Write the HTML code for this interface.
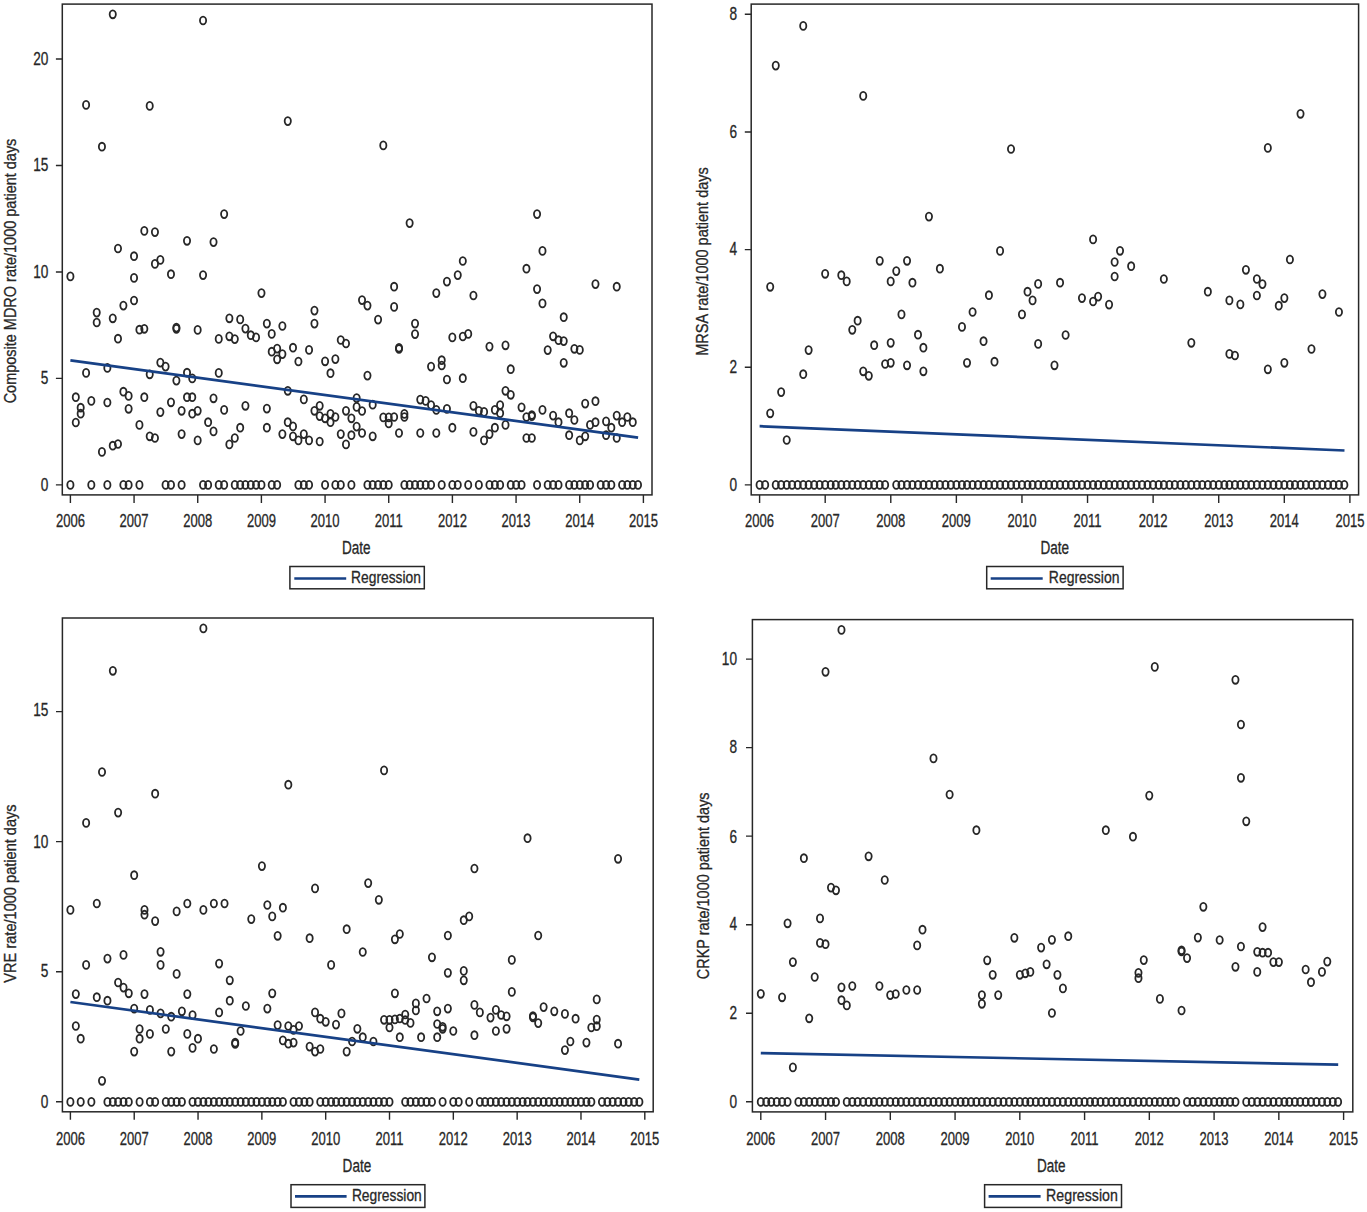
<!DOCTYPE html>
<html><head><meta charset="utf-8"><title>Regression plots</title>
<style>
html,body{margin:0;padding:0;background:#fff}
svg{display:block}
text{font-family:"Liberation Sans",sans-serif}
</style></head><body>
<svg width="1367" height="1212" viewBox="0 0 1367 1212">
<rect width="1367" height="1212" fill="#fff"/>
<g>
<g>
<rect x="62.3" y="4.1" width="589.70" height="490.80" fill="none" stroke="#272727" stroke-width="1.5"/>
<path d="M70.40 494.9v8M134.07 494.9v8M197.73 494.9v8M261.40 494.9v8M325.07 494.9v8M388.73 494.9v8M452.40 494.9v8M516.07 494.9v8M579.73 494.9v8M643.40 494.9v8M62.3 484.9h-6.4M62.3 378.4h-6.4M62.3 272.0h-6.4M62.3 165.5h-6.4M62.3 59.0h-6.4" stroke="#272727" stroke-width="1.4" fill="none"/>
<text transform="translate(70.40,526.50) scale(0.7450,1.0000)" text-anchor="middle" font-size="17.5" fill="#272727" stroke="#272727" stroke-width="0.3">2006</text>
<text transform="translate(134.07,526.50) scale(0.7450,1.0000)" text-anchor="middle" font-size="17.5" fill="#272727" stroke="#272727" stroke-width="0.3">2007</text>
<text transform="translate(197.73,526.50) scale(0.7450,1.0000)" text-anchor="middle" font-size="17.5" fill="#272727" stroke="#272727" stroke-width="0.3">2008</text>
<text transform="translate(261.40,526.50) scale(0.7450,1.0000)" text-anchor="middle" font-size="17.5" fill="#272727" stroke="#272727" stroke-width="0.3">2009</text>
<text transform="translate(325.07,526.50) scale(0.7450,1.0000)" text-anchor="middle" font-size="17.5" fill="#272727" stroke="#272727" stroke-width="0.3">2010</text>
<text transform="translate(388.73,526.50) scale(0.7450,1.0000)" text-anchor="middle" font-size="17.5" fill="#272727" stroke="#272727" stroke-width="0.3">2011</text>
<text transform="translate(452.40,526.50) scale(0.7450,1.0000)" text-anchor="middle" font-size="17.5" fill="#272727" stroke="#272727" stroke-width="0.3">2012</text>
<text transform="translate(516.07,526.50) scale(0.7450,1.0000)" text-anchor="middle" font-size="17.5" fill="#272727" stroke="#272727" stroke-width="0.3">2013</text>
<text transform="translate(579.73,526.50) scale(0.7450,1.0000)" text-anchor="middle" font-size="17.5" fill="#272727" stroke="#272727" stroke-width="0.3">2014</text>
<text transform="translate(643.40,526.50) scale(0.7450,1.0000)" text-anchor="middle" font-size="17.5" fill="#272727" stroke="#272727" stroke-width="0.3">2015</text>
<text transform="translate(48.40,490.90) scale(0.7800,1.0000)" text-anchor="end" font-size="17.5" fill="#272727" stroke="#272727" stroke-width="0.3">0</text>
<text transform="translate(48.40,384.00) scale(0.7800,1.0000)" text-anchor="end" font-size="17.5" fill="#272727" stroke="#272727" stroke-width="0.3">5</text>
<text transform="translate(48.40,277.60) scale(0.7800,1.0000)" text-anchor="end" font-size="17.5" fill="#272727" stroke="#272727" stroke-width="0.3">10</text>
<text transform="translate(48.40,170.50) scale(0.7800,1.0000)" text-anchor="end" font-size="17.5" fill="#272727" stroke="#272727" stroke-width="0.3">15</text>
<text transform="translate(48.40,65.20) scale(0.7800,1.0000)" text-anchor="end" font-size="17.5" fill="#272727" stroke="#272727" stroke-width="0.3">20</text>
<text transform="translate(16.30,271.00) rotate(-90) scale(0.9057,1.0500)" text-anchor="middle" font-size="16.0" fill="#272727" stroke="#272727" stroke-width="0.3">Composite MDRO rate/1000 patient days</text>
<text transform="translate(356.20,553.60) scale(0.7607,1.0000)" text-anchor="middle" font-size="17.8" fill="#272727" stroke="#272727" stroke-width="0.3">Date</text>
<rect x="289.9" y="566.5" width="134.40" height="22.30" fill="#fff" stroke="#272727" stroke-width="1.5"/>
<path d="M294.3 578.5H346.2" stroke="#174186" stroke-width="2.6"/>
<text transform="translate(351.10,582.60) scale(0.8426,1.0000)" text-anchor="start" font-size="16.4" fill="#272727" stroke="#272727" stroke-width="0.3">Regression</text>
<g fill="none" stroke="#272727" stroke-width="1.8">
<ellipse cx="70.40" cy="484.9" rx="3.1" ry="3.95"/>
<ellipse cx="91.32" cy="484.9" rx="3.1" ry="3.95"/>
<ellipse cx="107.36" cy="484.9" rx="3.1" ry="3.95"/>
<ellipse cx="123.39" cy="484.9" rx="3.1" ry="3.95"/>
<ellipse cx="128.62" cy="484.9" rx="3.1" ry="3.95"/>
<ellipse cx="139.43" cy="484.9" rx="3.1" ry="3.95"/>
<ellipse cx="165.58" cy="484.9" rx="3.1" ry="3.95"/>
<ellipse cx="170.98" cy="484.9" rx="3.1" ry="3.95"/>
<ellipse cx="181.62" cy="484.9" rx="3.1" ry="3.95"/>
<ellipse cx="203.06" cy="484.9" rx="3.1" ry="3.95"/>
<ellipse cx="208.12" cy="484.9" rx="3.1" ry="3.95"/>
<ellipse cx="218.75" cy="484.9" rx="3.1" ry="3.95"/>
<ellipse cx="224.15" cy="484.9" rx="3.1" ry="3.95"/>
<ellipse cx="234.79" cy="484.9" rx="3.1" ry="3.95"/>
<ellipse cx="240.19" cy="484.9" rx="3.1" ry="3.95"/>
<ellipse cx="245.42" cy="484.9" rx="3.1" ry="3.95"/>
<ellipse cx="250.82" cy="484.9" rx="3.1" ry="3.95"/>
<ellipse cx="256.05" cy="484.9" rx="3.1" ry="3.95"/>
<ellipse cx="261.46" cy="484.9" rx="3.1" ry="3.95"/>
<ellipse cx="271.74" cy="484.9" rx="3.1" ry="3.95"/>
<ellipse cx="277.15" cy="484.9" rx="3.1" ry="3.95"/>
<ellipse cx="298.41" cy="484.9" rx="3.1" ry="3.95"/>
<ellipse cx="303.82" cy="484.9" rx="3.1" ry="3.95"/>
<ellipse cx="309.05" cy="484.9" rx="3.1" ry="3.95"/>
<ellipse cx="325.09" cy="484.9" rx="3.1" ry="3.95"/>
<ellipse cx="335.37" cy="484.9" rx="3.1" ry="3.95"/>
<ellipse cx="340.78" cy="484.9" rx="3.1" ry="3.95"/>
<ellipse cx="351.41" cy="484.9" rx="3.1" ry="3.95"/>
<ellipse cx="367.45" cy="484.9" rx="3.1" ry="3.95"/>
<ellipse cx="372.68" cy="484.9" rx="3.1" ry="3.95"/>
<ellipse cx="378.08" cy="484.9" rx="3.1" ry="3.95"/>
<ellipse cx="383.31" cy="484.9" rx="3.1" ry="3.95"/>
<ellipse cx="388.71" cy="484.9" rx="3.1" ry="3.95"/>
<ellipse cx="404.40" cy="484.9" rx="3.1" ry="3.95"/>
<ellipse cx="409.63" cy="484.9" rx="3.1" ry="3.95"/>
<ellipse cx="415.04" cy="484.9" rx="3.1" ry="3.95"/>
<ellipse cx="420.27" cy="484.9" rx="3.1" ry="3.95"/>
<ellipse cx="425.67" cy="484.9" rx="3.1" ry="3.95"/>
<ellipse cx="431.07" cy="484.9" rx="3.1" ry="3.95"/>
<ellipse cx="441.71" cy="484.9" rx="3.1" ry="3.95"/>
<ellipse cx="452.34" cy="484.9" rx="3.1" ry="3.95"/>
<ellipse cx="457.75" cy="484.9" rx="3.1" ry="3.95"/>
<ellipse cx="468.21" cy="484.9" rx="3.1" ry="3.95"/>
<ellipse cx="478.84" cy="484.9" rx="3.1" ry="3.95"/>
<ellipse cx="489.47" cy="484.9" rx="3.1" ry="3.95"/>
<ellipse cx="494.88" cy="484.9" rx="3.1" ry="3.95"/>
<ellipse cx="500.11" cy="484.9" rx="3.1" ry="3.95"/>
<ellipse cx="510.74" cy="484.9" rx="3.1" ry="3.95"/>
<ellipse cx="516.14" cy="484.9" rx="3.1" ry="3.95"/>
<ellipse cx="521.55" cy="484.9" rx="3.1" ry="3.95"/>
<ellipse cx="537.06" cy="484.9" rx="3.1" ry="3.95"/>
<ellipse cx="547.70" cy="484.9" rx="3.1" ry="3.95"/>
<ellipse cx="553.10" cy="484.9" rx="3.1" ry="3.95"/>
<ellipse cx="558.50" cy="484.9" rx="3.1" ry="3.95"/>
<ellipse cx="569.14" cy="484.9" rx="3.1" ry="3.95"/>
<ellipse cx="574.37" cy="484.9" rx="3.1" ry="3.95"/>
<ellipse cx="579.77" cy="484.9" rx="3.1" ry="3.95"/>
<ellipse cx="585.18" cy="484.9" rx="3.1" ry="3.95"/>
<ellipse cx="590.06" cy="484.9" rx="3.1" ry="3.95"/>
<ellipse cx="600.69" cy="484.9" rx="3.1" ry="3.95"/>
<ellipse cx="606.09" cy="484.9" rx="3.1" ry="3.95"/>
<ellipse cx="611.32" cy="484.9" rx="3.1" ry="3.95"/>
<ellipse cx="622.13" cy="484.9" rx="3.1" ry="3.95"/>
<ellipse cx="627.36" cy="484.9" rx="3.1" ry="3.95"/>
<ellipse cx="632.77" cy="484.9" rx="3.1" ry="3.95"/>
<ellipse cx="638.00" cy="484.9" rx="3.1" ry="3.95"/>
<ellipse cx="112.76" cy="14.3" rx="3.1" ry="3.95"/>
<ellipse cx="203.06" cy="20.5" rx="3.1" ry="3.95"/>
<ellipse cx="86.09" cy="104.9" rx="3.1" ry="3.95"/>
<ellipse cx="149.72" cy="105.9" rx="3.1" ry="3.95"/>
<ellipse cx="101.95" cy="146.7" rx="3.1" ry="3.95"/>
<ellipse cx="287.78" cy="121.1" rx="3.1" ry="3.95"/>
<ellipse cx="224.15" cy="214.1" rx="3.1" ry="3.95"/>
<ellipse cx="144.31" cy="230.9" rx="3.1" ry="3.95"/>
<ellipse cx="154.95" cy="232.1" rx="3.1" ry="3.95"/>
<ellipse cx="187.02" cy="240.8" rx="3.1" ry="3.95"/>
<ellipse cx="213.52" cy="242.1" rx="3.1" ry="3.95"/>
<ellipse cx="117.99" cy="248.5" rx="3.1" ry="3.95"/>
<ellipse cx="134.03" cy="256.2" rx="3.1" ry="3.95"/>
<ellipse cx="160.35" cy="259.9" rx="3.1" ry="3.95"/>
<ellipse cx="154.95" cy="263.9" rx="3.1" ry="3.95"/>
<ellipse cx="170.98" cy="274.2" rx="3.1" ry="3.95"/>
<ellipse cx="203.06" cy="275.1" rx="3.1" ry="3.95"/>
<ellipse cx="70.40" cy="276.4" rx="3.1" ry="3.95"/>
<ellipse cx="134.03" cy="277.9" rx="3.1" ry="3.95"/>
<ellipse cx="261.46" cy="293.1" rx="3.1" ry="3.95"/>
<ellipse cx="134.03" cy="300.5" rx="3.1" ry="3.95"/>
<ellipse cx="123.39" cy="305.6" rx="3.1" ry="3.95"/>
<ellipse cx="314.45" cy="310.6" rx="3.1" ry="3.95"/>
<ellipse cx="96.72" cy="312.6" rx="3.1" ry="3.95"/>
<ellipse cx="112.76" cy="318.3" rx="3.1" ry="3.95"/>
<ellipse cx="229.38" cy="318.3" rx="3.1" ry="3.95"/>
<ellipse cx="240.19" cy="319.4" rx="3.1" ry="3.95"/>
<ellipse cx="96.72" cy="322.5" rx="3.1" ry="3.95"/>
<ellipse cx="314.45" cy="323.6" rx="3.1" ry="3.95"/>
<ellipse cx="266.86" cy="323.6" rx="3.1" ry="3.95"/>
<ellipse cx="282.38" cy="326.0" rx="3.1" ry="3.95"/>
<ellipse cx="245.42" cy="328.6" rx="3.1" ry="3.95"/>
<ellipse cx="139.43" cy="329.7" rx="3.1" ry="3.95"/>
<ellipse cx="144.31" cy="328.8" rx="3.1" ry="3.95"/>
<ellipse cx="176.39" cy="327.6" rx="3.1" ry="3.95"/>
<ellipse cx="176.39" cy="328.8" rx="3.1" ry="3.95"/>
<ellipse cx="197.66" cy="329.9" rx="3.1" ry="3.95"/>
<ellipse cx="271.74" cy="333.9" rx="3.1" ry="3.95"/>
<ellipse cx="250.82" cy="335.2" rx="3.1" ry="3.95"/>
<ellipse cx="256.05" cy="337.4" rx="3.1" ry="3.95"/>
<ellipse cx="229.38" cy="336.3" rx="3.1" ry="3.95"/>
<ellipse cx="234.79" cy="339.1" rx="3.1" ry="3.95"/>
<ellipse cx="218.75" cy="338.9" rx="3.1" ry="3.95"/>
<ellipse cx="117.99" cy="338.7" rx="3.1" ry="3.95"/>
<ellipse cx="340.78" cy="340.0" rx="3.1" ry="3.95"/>
<ellipse cx="346.00" cy="343.5" rx="3.1" ry="3.95"/>
<ellipse cx="293.01" cy="347.7" rx="3.1" ry="3.95"/>
<ellipse cx="277.15" cy="348.6" rx="3.1" ry="3.95"/>
<ellipse cx="271.74" cy="351.7" rx="3.1" ry="3.95"/>
<ellipse cx="309.05" cy="349.9" rx="3.1" ry="3.95"/>
<ellipse cx="282.38" cy="354.1" rx="3.1" ry="3.95"/>
<ellipse cx="277.15" cy="359.3" rx="3.1" ry="3.95"/>
<ellipse cx="335.37" cy="359.1" rx="3.1" ry="3.95"/>
<ellipse cx="298.41" cy="361.5" rx="3.1" ry="3.95"/>
<ellipse cx="325.09" cy="361.3" rx="3.1" ry="3.95"/>
<ellipse cx="160.35" cy="362.6" rx="3.1" ry="3.95"/>
<ellipse cx="165.58" cy="366.6" rx="3.1" ry="3.95"/>
<ellipse cx="107.36" cy="367.9" rx="3.1" ry="3.95"/>
<ellipse cx="86.09" cy="372.9" rx="3.1" ry="3.95"/>
<ellipse cx="149.72" cy="374.3" rx="3.1" ry="3.95"/>
<ellipse cx="187.02" cy="372.7" rx="3.1" ry="3.95"/>
<ellipse cx="218.75" cy="372.9" rx="3.1" ry="3.95"/>
<ellipse cx="330.49" cy="373.2" rx="3.1" ry="3.95"/>
<ellipse cx="176.39" cy="380.6" rx="3.1" ry="3.95"/>
<ellipse cx="192.25" cy="378.4" rx="3.1" ry="3.95"/>
<ellipse cx="123.39" cy="391.7" rx="3.1" ry="3.95"/>
<ellipse cx="128.62" cy="395.9" rx="3.1" ry="3.95"/>
<ellipse cx="75.80" cy="397.2" rx="3.1" ry="3.95"/>
<ellipse cx="144.31" cy="397.2" rx="3.1" ry="3.95"/>
<ellipse cx="91.32" cy="400.9" rx="3.1" ry="3.95"/>
<ellipse cx="107.36" cy="402.5" rx="3.1" ry="3.95"/>
<ellipse cx="170.98" cy="402.3" rx="3.1" ry="3.95"/>
<ellipse cx="187.02" cy="397.2" rx="3.1" ry="3.95"/>
<ellipse cx="192.25" cy="397.2" rx="3.1" ry="3.95"/>
<ellipse cx="213.52" cy="398.3" rx="3.1" ry="3.95"/>
<ellipse cx="287.78" cy="390.8" rx="3.1" ry="3.95"/>
<ellipse cx="303.82" cy="399.4" rx="3.1" ry="3.95"/>
<ellipse cx="319.68" cy="405.8" rx="3.1" ry="3.95"/>
<ellipse cx="356.64" cy="398.1" rx="3.1" ry="3.95"/>
<ellipse cx="80.69" cy="407.7" rx="3.1" ry="3.95"/>
<ellipse cx="80.69" cy="413.7" rx="3.1" ry="3.95"/>
<ellipse cx="128.62" cy="408.8" rx="3.1" ry="3.95"/>
<ellipse cx="160.35" cy="412.1" rx="3.1" ry="3.95"/>
<ellipse cx="181.62" cy="410.8" rx="3.1" ry="3.95"/>
<ellipse cx="197.66" cy="410.8" rx="3.1" ry="3.95"/>
<ellipse cx="192.25" cy="413.7" rx="3.1" ry="3.95"/>
<ellipse cx="224.15" cy="409.9" rx="3.1" ry="3.95"/>
<ellipse cx="245.42" cy="405.8" rx="3.1" ry="3.95"/>
<ellipse cx="266.86" cy="408.6" rx="3.1" ry="3.95"/>
<ellipse cx="314.45" cy="410.8" rx="3.1" ry="3.95"/>
<ellipse cx="319.68" cy="416.1" rx="3.1" ry="3.95"/>
<ellipse cx="325.09" cy="418.3" rx="3.1" ry="3.95"/>
<ellipse cx="330.49" cy="413.9" rx="3.1" ry="3.95"/>
<ellipse cx="335.37" cy="417.0" rx="3.1" ry="3.95"/>
<ellipse cx="330.49" cy="422.2" rx="3.1" ry="3.95"/>
<ellipse cx="346.00" cy="410.8" rx="3.1" ry="3.95"/>
<ellipse cx="356.64" cy="406.9" rx="3.1" ry="3.95"/>
<ellipse cx="351.41" cy="418.3" rx="3.1" ry="3.95"/>
<ellipse cx="356.64" cy="426.6" rx="3.1" ry="3.95"/>
<ellipse cx="75.80" cy="422.5" rx="3.1" ry="3.95"/>
<ellipse cx="139.43" cy="424.9" rx="3.1" ry="3.95"/>
<ellipse cx="208.12" cy="422.2" rx="3.1" ry="3.95"/>
<ellipse cx="213.52" cy="431.4" rx="3.1" ry="3.95"/>
<ellipse cx="240.19" cy="427.7" rx="3.1" ry="3.95"/>
<ellipse cx="266.86" cy="427.7" rx="3.1" ry="3.95"/>
<ellipse cx="287.78" cy="422.2" rx="3.1" ry="3.95"/>
<ellipse cx="293.01" cy="426.4" rx="3.1" ry="3.95"/>
<ellipse cx="282.38" cy="434.1" rx="3.1" ry="3.95"/>
<ellipse cx="293.01" cy="436.3" rx="3.1" ry="3.95"/>
<ellipse cx="303.82" cy="434.1" rx="3.1" ry="3.95"/>
<ellipse cx="298.41" cy="440.4" rx="3.1" ry="3.95"/>
<ellipse cx="309.05" cy="440.4" rx="3.1" ry="3.95"/>
<ellipse cx="319.68" cy="441.5" rx="3.1" ry="3.95"/>
<ellipse cx="340.78" cy="434.1" rx="3.1" ry="3.95"/>
<ellipse cx="351.41" cy="435.2" rx="3.1" ry="3.95"/>
<ellipse cx="346.00" cy="444.4" rx="3.1" ry="3.95"/>
<ellipse cx="149.72" cy="436.3" rx="3.1" ry="3.95"/>
<ellipse cx="154.95" cy="438.0" rx="3.1" ry="3.95"/>
<ellipse cx="181.62" cy="434.1" rx="3.1" ry="3.95"/>
<ellipse cx="197.66" cy="440.4" rx="3.1" ry="3.95"/>
<ellipse cx="234.79" cy="438.0" rx="3.1" ry="3.95"/>
<ellipse cx="229.38" cy="444.4" rx="3.1" ry="3.95"/>
<ellipse cx="117.99" cy="444.0" rx="3.1" ry="3.95"/>
<ellipse cx="112.76" cy="445.7" rx="3.1" ry="3.95"/>
<ellipse cx="101.95" cy="451.9" rx="3.1" ry="3.95"/>
<ellipse cx="383.31" cy="145.4" rx="3.1" ry="3.95"/>
<ellipse cx="409.63" cy="223.1" rx="3.1" ry="3.95"/>
<ellipse cx="537.06" cy="214.1" rx="3.1" ry="3.95"/>
<ellipse cx="542.47" cy="250.9" rx="3.1" ry="3.95"/>
<ellipse cx="462.80" cy="261.0" rx="3.1" ry="3.95"/>
<ellipse cx="526.43" cy="268.7" rx="3.1" ry="3.95"/>
<ellipse cx="457.75" cy="275.1" rx="3.1" ry="3.95"/>
<ellipse cx="446.94" cy="281.6" rx="3.1" ry="3.95"/>
<ellipse cx="394.12" cy="286.7" rx="3.1" ry="3.95"/>
<ellipse cx="595.46" cy="284.1" rx="3.1" ry="3.95"/>
<ellipse cx="616.73" cy="286.7" rx="3.1" ry="3.95"/>
<ellipse cx="537.06" cy="289.1" rx="3.1" ry="3.95"/>
<ellipse cx="436.30" cy="293.1" rx="3.1" ry="3.95"/>
<ellipse cx="473.43" cy="295.5" rx="3.1" ry="3.95"/>
<ellipse cx="362.04" cy="300.1" rx="3.1" ry="3.95"/>
<ellipse cx="367.45" cy="305.6" rx="3.1" ry="3.95"/>
<ellipse cx="542.47" cy="303.4" rx="3.1" ry="3.95"/>
<ellipse cx="394.12" cy="306.9" rx="3.1" ry="3.95"/>
<ellipse cx="378.08" cy="319.6" rx="3.1" ry="3.95"/>
<ellipse cx="563.73" cy="317.2" rx="3.1" ry="3.95"/>
<ellipse cx="415.04" cy="323.6" rx="3.1" ry="3.95"/>
<ellipse cx="415.04" cy="334.1" rx="3.1" ry="3.95"/>
<ellipse cx="553.10" cy="336.3" rx="3.1" ry="3.95"/>
<ellipse cx="558.50" cy="340.2" rx="3.1" ry="3.95"/>
<ellipse cx="563.73" cy="341.1" rx="3.1" ry="3.95"/>
<ellipse cx="468.21" cy="333.9" rx="3.1" ry="3.95"/>
<ellipse cx="462.80" cy="336.5" rx="3.1" ry="3.95"/>
<ellipse cx="452.34" cy="337.4" rx="3.1" ry="3.95"/>
<ellipse cx="399.00" cy="347.8" rx="3.1" ry="3.95"/>
<ellipse cx="399.00" cy="349.0" rx="3.1" ry="3.95"/>
<ellipse cx="489.47" cy="346.6" rx="3.1" ry="3.95"/>
<ellipse cx="505.51" cy="345.3" rx="3.1" ry="3.95"/>
<ellipse cx="547.70" cy="350.1" rx="3.1" ry="3.95"/>
<ellipse cx="574.37" cy="348.8" rx="3.1" ry="3.95"/>
<ellipse cx="579.77" cy="349.9" rx="3.1" ry="3.95"/>
<ellipse cx="563.73" cy="362.8" rx="3.1" ry="3.95"/>
<ellipse cx="441.71" cy="360.2" rx="3.1" ry="3.95"/>
<ellipse cx="441.71" cy="365.5" rx="3.1" ry="3.95"/>
<ellipse cx="431.07" cy="366.6" rx="3.1" ry="3.95"/>
<ellipse cx="510.74" cy="369.2" rx="3.1" ry="3.95"/>
<ellipse cx="367.45" cy="375.6" rx="3.1" ry="3.95"/>
<ellipse cx="446.94" cy="379.5" rx="3.1" ry="3.95"/>
<ellipse cx="462.80" cy="378.2" rx="3.1" ry="3.95"/>
<ellipse cx="505.51" cy="390.8" rx="3.1" ry="3.95"/>
<ellipse cx="510.74" cy="394.8" rx="3.1" ry="3.95"/>
<ellipse cx="362.04" cy="411.0" rx="3.1" ry="3.95"/>
<ellipse cx="372.68" cy="404.7" rx="3.1" ry="3.95"/>
<ellipse cx="362.04" cy="433.0" rx="3.1" ry="3.95"/>
<ellipse cx="372.68" cy="436.3" rx="3.1" ry="3.95"/>
<ellipse cx="383.31" cy="417.4" rx="3.1" ry="3.95"/>
<ellipse cx="388.71" cy="417.4" rx="3.1" ry="3.95"/>
<ellipse cx="388.71" cy="423.5" rx="3.1" ry="3.95"/>
<ellipse cx="394.12" cy="417.0" rx="3.1" ry="3.95"/>
<ellipse cx="404.40" cy="413.9" rx="3.1" ry="3.95"/>
<ellipse cx="404.40" cy="417.0" rx="3.1" ry="3.95"/>
<ellipse cx="399.00" cy="433.0" rx="3.1" ry="3.95"/>
<ellipse cx="420.27" cy="399.6" rx="3.1" ry="3.95"/>
<ellipse cx="425.67" cy="400.9" rx="3.1" ry="3.95"/>
<ellipse cx="431.07" cy="405.1" rx="3.1" ry="3.95"/>
<ellipse cx="436.30" cy="409.9" rx="3.1" ry="3.95"/>
<ellipse cx="446.94" cy="408.8" rx="3.1" ry="3.95"/>
<ellipse cx="420.27" cy="433.0" rx="3.1" ry="3.95"/>
<ellipse cx="436.30" cy="433.0" rx="3.1" ry="3.95"/>
<ellipse cx="452.34" cy="427.7" rx="3.1" ry="3.95"/>
<ellipse cx="473.43" cy="405.8" rx="3.1" ry="3.95"/>
<ellipse cx="478.84" cy="410.8" rx="3.1" ry="3.95"/>
<ellipse cx="484.07" cy="411.9" rx="3.1" ry="3.95"/>
<ellipse cx="494.88" cy="409.9" rx="3.1" ry="3.95"/>
<ellipse cx="500.11" cy="405.1" rx="3.1" ry="3.95"/>
<ellipse cx="500.11" cy="413.2" rx="3.1" ry="3.95"/>
<ellipse cx="505.51" cy="424.9" rx="3.1" ry="3.95"/>
<ellipse cx="473.43" cy="431.9" rx="3.1" ry="3.95"/>
<ellipse cx="494.88" cy="427.7" rx="3.1" ry="3.95"/>
<ellipse cx="489.47" cy="434.1" rx="3.1" ry="3.95"/>
<ellipse cx="484.07" cy="440.4" rx="3.1" ry="3.95"/>
<ellipse cx="521.55" cy="407.3" rx="3.1" ry="3.95"/>
<ellipse cx="526.43" cy="417.0" rx="3.1" ry="3.95"/>
<ellipse cx="531.83" cy="415.0" rx="3.1" ry="3.95"/>
<ellipse cx="531.83" cy="416.2" rx="3.1" ry="3.95"/>
<ellipse cx="542.47" cy="409.9" rx="3.1" ry="3.95"/>
<ellipse cx="526.43" cy="438.0" rx="3.1" ry="3.95"/>
<ellipse cx="531.83" cy="438.0" rx="3.1" ry="3.95"/>
<ellipse cx="553.10" cy="415.6" rx="3.1" ry="3.95"/>
<ellipse cx="558.50" cy="422.2" rx="3.1" ry="3.95"/>
<ellipse cx="569.14" cy="413.2" rx="3.1" ry="3.95"/>
<ellipse cx="574.37" cy="420.0" rx="3.1" ry="3.95"/>
<ellipse cx="569.14" cy="435.2" rx="3.1" ry="3.95"/>
<ellipse cx="579.77" cy="440.4" rx="3.1" ry="3.95"/>
<ellipse cx="585.18" cy="436.3" rx="3.1" ry="3.95"/>
<ellipse cx="585.18" cy="403.6" rx="3.1" ry="3.95"/>
<ellipse cx="595.46" cy="401.2" rx="3.1" ry="3.95"/>
<ellipse cx="590.06" cy="424.9" rx="3.1" ry="3.95"/>
<ellipse cx="595.46" cy="422.2" rx="3.1" ry="3.95"/>
<ellipse cx="606.09" cy="421.4" rx="3.1" ry="3.95"/>
<ellipse cx="611.32" cy="427.7" rx="3.1" ry="3.95"/>
<ellipse cx="606.09" cy="435.2" rx="3.1" ry="3.95"/>
<ellipse cx="616.73" cy="438.0" rx="3.1" ry="3.95"/>
<ellipse cx="616.73" cy="415.6" rx="3.1" ry="3.95"/>
<ellipse cx="622.13" cy="422.2" rx="3.1" ry="3.95"/>
<ellipse cx="627.36" cy="417.0" rx="3.1" ry="3.95"/>
<ellipse cx="632.77" cy="422.2" rx="3.1" ry="3.95"/>
</g>
<path d="M70.4 360.4L638.1 437.6" stroke="#174186" stroke-width="2.7" fill="none"/>
</g>
<g>
<rect x="751.2" y="4.1" width="607.40" height="490.80" fill="none" stroke="#272727" stroke-width="1.5"/>
<path d="M759.60 494.9v8M825.19 494.9v8M890.78 494.9v8M956.37 494.9v8M1021.96 494.9v8M1087.54 494.9v8M1153.13 494.9v8M1218.72 494.9v8M1284.31 494.9v8M1349.90 494.9v8M751.2 484.9h-6.4M751.2 367.3h-6.4M751.2 249.6h-6.4M751.2 132.0h-6.4M751.2 14.3h-6.4" stroke="#272727" stroke-width="1.4" fill="none"/>
<text transform="translate(759.60,526.50) scale(0.7450,1.0000)" text-anchor="middle" font-size="17.5" fill="#272727" stroke="#272727" stroke-width="0.3">2006</text>
<text transform="translate(825.19,526.50) scale(0.7450,1.0000)" text-anchor="middle" font-size="17.5" fill="#272727" stroke="#272727" stroke-width="0.3">2007</text>
<text transform="translate(890.78,526.50) scale(0.7450,1.0000)" text-anchor="middle" font-size="17.5" fill="#272727" stroke="#272727" stroke-width="0.3">2008</text>
<text transform="translate(956.37,526.50) scale(0.7450,1.0000)" text-anchor="middle" font-size="17.5" fill="#272727" stroke="#272727" stroke-width="0.3">2009</text>
<text transform="translate(1021.96,526.50) scale(0.7450,1.0000)" text-anchor="middle" font-size="17.5" fill="#272727" stroke="#272727" stroke-width="0.3">2010</text>
<text transform="translate(1087.54,526.50) scale(0.7450,1.0000)" text-anchor="middle" font-size="17.5" fill="#272727" stroke="#272727" stroke-width="0.3">2011</text>
<text transform="translate(1153.13,526.50) scale(0.7450,1.0000)" text-anchor="middle" font-size="17.5" fill="#272727" stroke="#272727" stroke-width="0.3">2012</text>
<text transform="translate(1218.72,526.50) scale(0.7450,1.0000)" text-anchor="middle" font-size="17.5" fill="#272727" stroke="#272727" stroke-width="0.3">2013</text>
<text transform="translate(1284.31,526.50) scale(0.7450,1.0000)" text-anchor="middle" font-size="17.5" fill="#272727" stroke="#272727" stroke-width="0.3">2014</text>
<text transform="translate(1349.90,526.50) scale(0.7450,1.0000)" text-anchor="middle" font-size="17.5" fill="#272727" stroke="#272727" stroke-width="0.3">2015</text>
<text transform="translate(737.00,490.90) scale(0.7800,1.0000)" text-anchor="end" font-size="17.5" fill="#272727" stroke="#272727" stroke-width="0.3">0</text>
<text transform="translate(737.00,372.90) scale(0.7800,1.0000)" text-anchor="end" font-size="17.5" fill="#272727" stroke="#272727" stroke-width="0.3">2</text>
<text transform="translate(737.00,255.20) scale(0.7800,1.0000)" text-anchor="end" font-size="17.5" fill="#272727" stroke="#272727" stroke-width="0.3">4</text>
<text transform="translate(737.00,137.60) scale(0.7800,1.0000)" text-anchor="end" font-size="17.5" fill="#272727" stroke="#272727" stroke-width="0.3">6</text>
<text transform="translate(737.00,19.90) scale(0.7800,1.0000)" text-anchor="end" font-size="17.5" fill="#272727" stroke="#272727" stroke-width="0.3">8</text>
<text transform="translate(708.10,261.50) rotate(-90) scale(0.9062,1.0500)" text-anchor="middle" font-size="16.0" fill="#272727" stroke="#272727" stroke-width="0.3">MRSA rate/1000 patient days</text>
<text transform="translate(1054.70,553.60) scale(0.7607,1.0000)" text-anchor="middle" font-size="17.8" fill="#272727" stroke="#272727" stroke-width="0.3">Date</text>
<rect x="986.7" y="566.5" width="136.40" height="22.30" fill="#fff" stroke="#272727" stroke-width="1.5"/>
<path d="M990.7 578.5H1042.7" stroke="#174186" stroke-width="2.6"/>
<text transform="translate(1048.80,582.60) scale(0.8523,1.0000)" text-anchor="start" font-size="16.4" fill="#272727" stroke="#272727" stroke-width="0.3">Regression</text>
<g fill="none" stroke="#272727" stroke-width="1.8">
<ellipse cx="759.60" cy="484.9" rx="3.1" ry="3.95"/>
<ellipse cx="765.17" cy="484.9" rx="3.1" ry="3.95"/>
<ellipse cx="775.76" cy="484.9" rx="3.1" ry="3.95"/>
<ellipse cx="781.15" cy="484.9" rx="3.1" ry="3.95"/>
<ellipse cx="786.72" cy="484.9" rx="3.1" ry="3.95"/>
<ellipse cx="792.11" cy="484.9" rx="3.1" ry="3.95"/>
<ellipse cx="797.67" cy="484.9" rx="3.1" ry="3.95"/>
<ellipse cx="803.24" cy="484.9" rx="3.1" ry="3.95"/>
<ellipse cx="808.63" cy="484.9" rx="3.1" ry="3.95"/>
<ellipse cx="814.19" cy="484.9" rx="3.1" ry="3.95"/>
<ellipse cx="819.58" cy="484.9" rx="3.1" ry="3.95"/>
<ellipse cx="825.15" cy="484.9" rx="3.1" ry="3.95"/>
<ellipse cx="830.72" cy="484.9" rx="3.1" ry="3.95"/>
<ellipse cx="835.74" cy="484.9" rx="3.1" ry="3.95"/>
<ellipse cx="841.31" cy="484.9" rx="3.1" ry="3.95"/>
<ellipse cx="846.70" cy="484.9" rx="3.1" ry="3.95"/>
<ellipse cx="852.27" cy="484.9" rx="3.1" ry="3.95"/>
<ellipse cx="857.65" cy="484.9" rx="3.1" ry="3.95"/>
<ellipse cx="863.22" cy="484.9" rx="3.1" ry="3.95"/>
<ellipse cx="868.79" cy="484.9" rx="3.1" ry="3.95"/>
<ellipse cx="874.18" cy="484.9" rx="3.1" ry="3.95"/>
<ellipse cx="879.74" cy="484.9" rx="3.1" ry="3.95"/>
<ellipse cx="885.13" cy="484.9" rx="3.1" ry="3.95"/>
<ellipse cx="896.27" cy="484.9" rx="3.1" ry="3.95"/>
<ellipse cx="901.47" cy="484.9" rx="3.1" ry="3.95"/>
<ellipse cx="907.04" cy="484.9" rx="3.1" ry="3.95"/>
<ellipse cx="912.43" cy="484.9" rx="3.1" ry="3.95"/>
<ellipse cx="918.00" cy="484.9" rx="3.1" ry="3.95"/>
<ellipse cx="923.38" cy="484.9" rx="3.1" ry="3.95"/>
<ellipse cx="928.95" cy="484.9" rx="3.1" ry="3.95"/>
<ellipse cx="934.52" cy="484.9" rx="3.1" ry="3.95"/>
<ellipse cx="939.90" cy="484.9" rx="3.1" ry="3.95"/>
<ellipse cx="945.47" cy="484.9" rx="3.1" ry="3.95"/>
<ellipse cx="950.86" cy="484.9" rx="3.1" ry="3.95"/>
<ellipse cx="956.43" cy="484.9" rx="3.1" ry="3.95"/>
<ellipse cx="961.99" cy="484.9" rx="3.1" ry="3.95"/>
<ellipse cx="967.02" cy="484.9" rx="3.1" ry="3.95"/>
<ellipse cx="972.59" cy="484.9" rx="3.1" ry="3.95"/>
<ellipse cx="977.98" cy="484.9" rx="3.1" ry="3.95"/>
<ellipse cx="983.54" cy="484.9" rx="3.1" ry="3.95"/>
<ellipse cx="988.93" cy="484.9" rx="3.1" ry="3.95"/>
<ellipse cx="994.50" cy="484.9" rx="3.1" ry="3.95"/>
<ellipse cx="1000.07" cy="484.9" rx="3.1" ry="3.95"/>
<ellipse cx="1005.45" cy="484.9" rx="3.1" ry="3.95"/>
<ellipse cx="1011.02" cy="484.9" rx="3.1" ry="3.95"/>
<ellipse cx="1016.41" cy="484.9" rx="3.1" ry="3.95"/>
<ellipse cx="1021.98" cy="484.9" rx="3.1" ry="3.95"/>
<ellipse cx="1027.54" cy="484.9" rx="3.1" ry="3.95"/>
<ellipse cx="1032.57" cy="484.9" rx="3.1" ry="3.95"/>
<ellipse cx="1038.14" cy="484.9" rx="3.1" ry="3.95"/>
<ellipse cx="1043.53" cy="484.9" rx="3.1" ry="3.95"/>
<ellipse cx="1049.09" cy="484.9" rx="3.1" ry="3.95"/>
<ellipse cx="1054.48" cy="484.9" rx="3.1" ry="3.95"/>
<ellipse cx="1060.05" cy="484.9" rx="3.1" ry="3.95"/>
<ellipse cx="1065.61" cy="484.9" rx="3.1" ry="3.95"/>
<ellipse cx="1071.00" cy="484.9" rx="3.1" ry="3.95"/>
<ellipse cx="1076.57" cy="484.9" rx="3.1" ry="3.95"/>
<ellipse cx="1081.96" cy="484.9" rx="3.1" ry="3.95"/>
<ellipse cx="1087.52" cy="484.9" rx="3.1" ry="3.95"/>
<ellipse cx="1093.09" cy="484.9" rx="3.1" ry="3.95"/>
<ellipse cx="1098.12" cy="484.9" rx="3.1" ry="3.95"/>
<ellipse cx="1103.69" cy="484.9" rx="3.1" ry="3.95"/>
<ellipse cx="1109.07" cy="484.9" rx="3.1" ry="3.95"/>
<ellipse cx="1114.64" cy="484.9" rx="3.1" ry="3.95"/>
<ellipse cx="1120.03" cy="484.9" rx="3.1" ry="3.95"/>
<ellipse cx="1125.60" cy="484.9" rx="3.1" ry="3.95"/>
<ellipse cx="1131.16" cy="484.9" rx="3.1" ry="3.95"/>
<ellipse cx="1136.55" cy="484.9" rx="3.1" ry="3.95"/>
<ellipse cx="1142.12" cy="484.9" rx="3.1" ry="3.95"/>
<ellipse cx="1147.51" cy="484.9" rx="3.1" ry="3.95"/>
<ellipse cx="1153.07" cy="484.9" rx="3.1" ry="3.95"/>
<ellipse cx="1158.64" cy="484.9" rx="3.1" ry="3.95"/>
<ellipse cx="1163.85" cy="484.9" rx="3.1" ry="3.95"/>
<ellipse cx="1169.42" cy="484.9" rx="3.1" ry="3.95"/>
<ellipse cx="1174.80" cy="484.9" rx="3.1" ry="3.95"/>
<ellipse cx="1180.37" cy="484.9" rx="3.1" ry="3.95"/>
<ellipse cx="1185.76" cy="484.9" rx="3.1" ry="3.95"/>
<ellipse cx="1191.33" cy="484.9" rx="3.1" ry="3.95"/>
<ellipse cx="1196.89" cy="484.9" rx="3.1" ry="3.95"/>
<ellipse cx="1202.28" cy="484.9" rx="3.1" ry="3.95"/>
<ellipse cx="1207.85" cy="484.9" rx="3.1" ry="3.95"/>
<ellipse cx="1213.23" cy="484.9" rx="3.1" ry="3.95"/>
<ellipse cx="1218.80" cy="484.9" rx="3.1" ry="3.95"/>
<ellipse cx="1224.37" cy="484.9" rx="3.1" ry="3.95"/>
<ellipse cx="1229.40" cy="484.9" rx="3.1" ry="3.95"/>
<ellipse cx="1234.96" cy="484.9" rx="3.1" ry="3.95"/>
<ellipse cx="1240.35" cy="484.9" rx="3.1" ry="3.95"/>
<ellipse cx="1245.92" cy="484.9" rx="3.1" ry="3.95"/>
<ellipse cx="1251.31" cy="484.9" rx="3.1" ry="3.95"/>
<ellipse cx="1256.87" cy="484.9" rx="3.1" ry="3.95"/>
<ellipse cx="1262.44" cy="484.9" rx="3.1" ry="3.95"/>
<ellipse cx="1267.83" cy="484.9" rx="3.1" ry="3.95"/>
<ellipse cx="1273.40" cy="484.9" rx="3.1" ry="3.95"/>
<ellipse cx="1278.78" cy="484.9" rx="3.1" ry="3.95"/>
<ellipse cx="1284.35" cy="484.9" rx="3.1" ry="3.95"/>
<ellipse cx="1289.92" cy="484.9" rx="3.1" ry="3.95"/>
<ellipse cx="1294.95" cy="484.9" rx="3.1" ry="3.95"/>
<ellipse cx="1300.51" cy="484.9" rx="3.1" ry="3.95"/>
<ellipse cx="1305.90" cy="484.9" rx="3.1" ry="3.95"/>
<ellipse cx="1311.47" cy="484.9" rx="3.1" ry="3.95"/>
<ellipse cx="1316.86" cy="484.9" rx="3.1" ry="3.95"/>
<ellipse cx="1322.42" cy="484.9" rx="3.1" ry="3.95"/>
<ellipse cx="1327.99" cy="484.9" rx="3.1" ry="3.95"/>
<ellipse cx="1333.38" cy="484.9" rx="3.1" ry="3.95"/>
<ellipse cx="1338.95" cy="484.9" rx="3.1" ry="3.95"/>
<ellipse cx="1344.33" cy="484.9" rx="3.1" ry="3.95"/>
<ellipse cx="803.24" cy="25.9" rx="3.1" ry="3.95"/>
<ellipse cx="775.76" cy="65.6" rx="3.1" ry="3.95"/>
<ellipse cx="863.22" cy="95.9" rx="3.1" ry="3.95"/>
<ellipse cx="1011.02" cy="149.0" rx="3.1" ry="3.95"/>
<ellipse cx="928.95" cy="216.6" rx="3.1" ry="3.95"/>
<ellipse cx="1000.07" cy="250.9" rx="3.1" ry="3.95"/>
<ellipse cx="879.74" cy="260.8" rx="3.1" ry="3.95"/>
<ellipse cx="907.04" cy="260.8" rx="3.1" ry="3.95"/>
<ellipse cx="939.90" cy="268.7" rx="3.1" ry="3.95"/>
<ellipse cx="896.27" cy="271.1" rx="3.1" ry="3.95"/>
<ellipse cx="825.15" cy="273.8" rx="3.1" ry="3.95"/>
<ellipse cx="841.31" cy="275.2" rx="3.1" ry="3.95"/>
<ellipse cx="846.70" cy="281.4" rx="3.1" ry="3.95"/>
<ellipse cx="890.70" cy="281.4" rx="3.1" ry="3.95"/>
<ellipse cx="912.43" cy="282.7" rx="3.1" ry="3.95"/>
<ellipse cx="770.20" cy="286.8" rx="3.1" ry="3.95"/>
<ellipse cx="1038.14" cy="283.9" rx="3.1" ry="3.95"/>
<ellipse cx="1027.54" cy="291.7" rx="3.1" ry="3.95"/>
<ellipse cx="988.93" cy="295.2" rx="3.1" ry="3.95"/>
<ellipse cx="1032.57" cy="300.4" rx="3.1" ry="3.95"/>
<ellipse cx="972.59" cy="312.0" rx="3.1" ry="3.95"/>
<ellipse cx="901.47" cy="314.4" rx="3.1" ry="3.95"/>
<ellipse cx="1021.98" cy="314.4" rx="3.1" ry="3.95"/>
<ellipse cx="857.65" cy="320.7" rx="3.1" ry="3.95"/>
<ellipse cx="852.27" cy="329.8" rx="3.1" ry="3.95"/>
<ellipse cx="961.99" cy="326.9" rx="3.1" ry="3.95"/>
<ellipse cx="918.00" cy="334.7" rx="3.1" ry="3.95"/>
<ellipse cx="983.54" cy="341.2" rx="3.1" ry="3.95"/>
<ellipse cx="890.70" cy="342.8" rx="3.1" ry="3.95"/>
<ellipse cx="874.18" cy="345.2" rx="3.1" ry="3.95"/>
<ellipse cx="1038.14" cy="343.9" rx="3.1" ry="3.95"/>
<ellipse cx="923.38" cy="347.7" rx="3.1" ry="3.95"/>
<ellipse cx="808.63" cy="350.1" rx="3.1" ry="3.95"/>
<ellipse cx="994.50" cy="361.7" rx="3.1" ry="3.95"/>
<ellipse cx="967.02" cy="362.8" rx="3.1" ry="3.95"/>
<ellipse cx="890.70" cy="362.8" rx="3.1" ry="3.95"/>
<ellipse cx="885.13" cy="364.0" rx="3.1" ry="3.95"/>
<ellipse cx="907.04" cy="365.3" rx="3.1" ry="3.95"/>
<ellipse cx="1054.48" cy="365.3" rx="3.1" ry="3.95"/>
<ellipse cx="863.22" cy="371.3" rx="3.1" ry="3.95"/>
<ellipse cx="923.38" cy="371.3" rx="3.1" ry="3.95"/>
<ellipse cx="803.24" cy="374.2" rx="3.1" ry="3.95"/>
<ellipse cx="868.79" cy="375.8" rx="3.1" ry="3.95"/>
<ellipse cx="781.15" cy="392.1" rx="3.1" ry="3.95"/>
<ellipse cx="770.20" cy="413.3" rx="3.1" ry="3.95"/>
<ellipse cx="786.72" cy="440.0" rx="3.1" ry="3.95"/>
<ellipse cx="1300.51" cy="113.8" rx="3.1" ry="3.95"/>
<ellipse cx="1267.83" cy="147.9" rx="3.1" ry="3.95"/>
<ellipse cx="1093.09" cy="239.4" rx="3.1" ry="3.95"/>
<ellipse cx="1120.03" cy="250.8" rx="3.1" ry="3.95"/>
<ellipse cx="1289.92" cy="259.5" rx="3.1" ry="3.95"/>
<ellipse cx="1114.64" cy="262.0" rx="3.1" ry="3.95"/>
<ellipse cx="1131.16" cy="266.2" rx="3.1" ry="3.95"/>
<ellipse cx="1114.64" cy="276.5" rx="3.1" ry="3.95"/>
<ellipse cx="1163.85" cy="279.0" rx="3.1" ry="3.95"/>
<ellipse cx="1060.05" cy="282.7" rx="3.1" ry="3.95"/>
<ellipse cx="1245.92" cy="269.8" rx="3.1" ry="3.95"/>
<ellipse cx="1256.87" cy="279.0" rx="3.1" ry="3.95"/>
<ellipse cx="1262.44" cy="284.1" rx="3.1" ry="3.95"/>
<ellipse cx="1207.85" cy="291.7" rx="3.1" ry="3.95"/>
<ellipse cx="1256.87" cy="295.5" rx="3.1" ry="3.95"/>
<ellipse cx="1322.42" cy="294.1" rx="3.1" ry="3.95"/>
<ellipse cx="1081.96" cy="298.1" rx="3.1" ry="3.95"/>
<ellipse cx="1098.12" cy="296.6" rx="3.1" ry="3.95"/>
<ellipse cx="1093.09" cy="301.5" rx="3.1" ry="3.95"/>
<ellipse cx="1109.07" cy="304.6" rx="3.1" ry="3.95"/>
<ellipse cx="1229.40" cy="300.4" rx="3.1" ry="3.95"/>
<ellipse cx="1240.35" cy="304.4" rx="3.1" ry="3.95"/>
<ellipse cx="1284.35" cy="298.1" rx="3.1" ry="3.95"/>
<ellipse cx="1278.78" cy="305.7" rx="3.1" ry="3.95"/>
<ellipse cx="1338.95" cy="312.0" rx="3.1" ry="3.95"/>
<ellipse cx="1065.61" cy="335.0" rx="3.1" ry="3.95"/>
<ellipse cx="1191.33" cy="342.8" rx="3.1" ry="3.95"/>
<ellipse cx="1311.47" cy="349.0" rx="3.1" ry="3.95"/>
<ellipse cx="1229.40" cy="353.9" rx="3.1" ry="3.95"/>
<ellipse cx="1234.96" cy="355.5" rx="3.1" ry="3.95"/>
<ellipse cx="1284.35" cy="362.8" rx="3.1" ry="3.95"/>
<ellipse cx="1267.83" cy="369.3" rx="3.1" ry="3.95"/>
</g>
<path d="M759.6 426.2L1344.5 450.5" stroke="#174186" stroke-width="2.7" fill="none"/>
</g>
<g>
<rect x="62.4" y="618.0" width="590.80" height="493.80" fill="none" stroke="#272727" stroke-width="1.5"/>
<path d="M70.40 1111.8v8M134.22 1111.8v8M198.04 1111.8v8M261.87 1111.8v8M325.69 1111.8v8M389.51 1111.8v8M453.33 1111.8v8M517.16 1111.8v8M580.98 1111.8v8M644.80 1111.8v8M62.4 1101.7h-6.4M62.4 971.7h-6.4M62.4 841.6h-6.4M62.4 711.6h-6.4" stroke="#272727" stroke-width="1.4" fill="none"/>
<text transform="translate(70.40,1144.60) scale(0.7450,1.0000)" text-anchor="middle" font-size="17.5" fill="#272727" stroke="#272727" stroke-width="0.3">2006</text>
<text transform="translate(134.22,1144.60) scale(0.7450,1.0000)" text-anchor="middle" font-size="17.5" fill="#272727" stroke="#272727" stroke-width="0.3">2007</text>
<text transform="translate(198.04,1144.60) scale(0.7450,1.0000)" text-anchor="middle" font-size="17.5" fill="#272727" stroke="#272727" stroke-width="0.3">2008</text>
<text transform="translate(261.87,1144.60) scale(0.7450,1.0000)" text-anchor="middle" font-size="17.5" fill="#272727" stroke="#272727" stroke-width="0.3">2009</text>
<text transform="translate(325.69,1144.60) scale(0.7450,1.0000)" text-anchor="middle" font-size="17.5" fill="#272727" stroke="#272727" stroke-width="0.3">2010</text>
<text transform="translate(389.51,1144.60) scale(0.7450,1.0000)" text-anchor="middle" font-size="17.5" fill="#272727" stroke="#272727" stroke-width="0.3">2011</text>
<text transform="translate(453.33,1144.60) scale(0.7450,1.0000)" text-anchor="middle" font-size="17.5" fill="#272727" stroke="#272727" stroke-width="0.3">2012</text>
<text transform="translate(517.16,1144.60) scale(0.7450,1.0000)" text-anchor="middle" font-size="17.5" fill="#272727" stroke="#272727" stroke-width="0.3">2013</text>
<text transform="translate(580.98,1144.60) scale(0.7450,1.0000)" text-anchor="middle" font-size="17.5" fill="#272727" stroke="#272727" stroke-width="0.3">2014</text>
<text transform="translate(644.80,1144.60) scale(0.7450,1.0000)" text-anchor="middle" font-size="17.5" fill="#272727" stroke="#272727" stroke-width="0.3">2015</text>
<text transform="translate(48.40,1107.70) scale(0.7800,1.0000)" text-anchor="end" font-size="17.5" fill="#272727" stroke="#272727" stroke-width="0.3">0</text>
<text transform="translate(48.40,977.30) scale(0.7800,1.0000)" text-anchor="end" font-size="17.5" fill="#272727" stroke="#272727" stroke-width="0.3">5</text>
<text transform="translate(48.40,847.50) scale(0.7800,1.0000)" text-anchor="end" font-size="17.5" fill="#272727" stroke="#272727" stroke-width="0.3">10</text>
<text transform="translate(48.40,716.30) scale(0.7800,1.0000)" text-anchor="end" font-size="17.5" fill="#272727" stroke="#272727" stroke-width="0.3">15</text>
<text transform="translate(16.40,893.50) rotate(-90) scale(0.9117,1.0500)" text-anchor="middle" font-size="16.0" fill="#272727" stroke="#272727" stroke-width="0.3">VRE rate/1000 patient days</text>
<text transform="translate(356.90,1172.00) scale(0.7607,1.0000)" text-anchor="middle" font-size="17.8" fill="#272727" stroke="#272727" stroke-width="0.3">Date</text>
<rect x="291.0" y="1184.7" width="133.90" height="22.70" fill="#fff" stroke="#272727" stroke-width="1.5"/>
<path d="M295.0 1196.4H346.6" stroke="#174186" stroke-width="2.6"/>
<text transform="translate(351.90,1200.90) scale(0.8426,1.0000)" text-anchor="start" font-size="16.4" fill="#272727" stroke="#272727" stroke-width="0.3">Regression</text>
<g fill="none" stroke="#272727" stroke-width="1.8">
<ellipse cx="70.40" cy="1101.9" rx="3.1" ry="3.95"/>
<ellipse cx="80.71" cy="1101.9" rx="3.1" ry="3.95"/>
<ellipse cx="91.37" cy="1101.9" rx="3.1" ry="3.95"/>
<ellipse cx="107.45" cy="1101.9" rx="3.1" ry="3.95"/>
<ellipse cx="112.86" cy="1101.9" rx="3.1" ry="3.95"/>
<ellipse cx="118.11" cy="1101.9" rx="3.1" ry="3.95"/>
<ellipse cx="123.52" cy="1101.9" rx="3.1" ry="3.95"/>
<ellipse cx="128.77" cy="1101.9" rx="3.1" ry="3.95"/>
<ellipse cx="139.60" cy="1101.9" rx="3.1" ry="3.95"/>
<ellipse cx="149.91" cy="1101.9" rx="3.1" ry="3.95"/>
<ellipse cx="155.15" cy="1101.9" rx="3.1" ry="3.95"/>
<ellipse cx="165.81" cy="1101.9" rx="3.1" ry="3.95"/>
<ellipse cx="171.23" cy="1101.9" rx="3.1" ry="3.95"/>
<ellipse cx="176.65" cy="1101.9" rx="3.1" ry="3.95"/>
<ellipse cx="181.89" cy="1101.9" rx="3.1" ry="3.95"/>
<ellipse cx="192.55" cy="1101.9" rx="3.1" ry="3.95"/>
<ellipse cx="197.97" cy="1101.9" rx="3.1" ry="3.95"/>
<ellipse cx="203.38" cy="1101.9" rx="3.1" ry="3.95"/>
<ellipse cx="208.45" cy="1101.9" rx="3.1" ry="3.95"/>
<ellipse cx="213.87" cy="1101.9" rx="3.1" ry="3.95"/>
<ellipse cx="219.11" cy="1101.9" rx="3.1" ry="3.95"/>
<ellipse cx="224.53" cy="1101.9" rx="3.1" ry="3.95"/>
<ellipse cx="229.77" cy="1101.9" rx="3.1" ry="3.95"/>
<ellipse cx="235.19" cy="1101.9" rx="3.1" ry="3.95"/>
<ellipse cx="240.61" cy="1101.9" rx="3.1" ry="3.95"/>
<ellipse cx="245.85" cy="1101.9" rx="3.1" ry="3.95"/>
<ellipse cx="251.27" cy="1101.9" rx="3.1" ry="3.95"/>
<ellipse cx="256.51" cy="1101.9" rx="3.1" ry="3.95"/>
<ellipse cx="261.92" cy="1101.9" rx="3.1" ry="3.95"/>
<ellipse cx="267.34" cy="1101.9" rx="3.1" ry="3.95"/>
<ellipse cx="272.24" cy="1101.9" rx="3.1" ry="3.95"/>
<ellipse cx="277.65" cy="1101.9" rx="3.1" ry="3.95"/>
<ellipse cx="282.89" cy="1101.9" rx="3.1" ry="3.95"/>
<ellipse cx="293.55" cy="1101.9" rx="3.1" ry="3.95"/>
<ellipse cx="298.97" cy="1101.9" rx="3.1" ry="3.95"/>
<ellipse cx="304.39" cy="1101.9" rx="3.1" ry="3.95"/>
<ellipse cx="309.63" cy="1101.9" rx="3.1" ry="3.95"/>
<ellipse cx="320.29" cy="1101.9" rx="3.1" ry="3.95"/>
<ellipse cx="325.71" cy="1101.9" rx="3.1" ry="3.95"/>
<ellipse cx="331.13" cy="1101.9" rx="3.1" ry="3.95"/>
<ellipse cx="336.02" cy="1101.9" rx="3.1" ry="3.95"/>
<ellipse cx="341.44" cy="1101.9" rx="3.1" ry="3.95"/>
<ellipse cx="346.68" cy="1101.9" rx="3.1" ry="3.95"/>
<ellipse cx="352.10" cy="1101.9" rx="3.1" ry="3.95"/>
<ellipse cx="357.34" cy="1101.9" rx="3.1" ry="3.95"/>
<ellipse cx="362.76" cy="1101.9" rx="3.1" ry="3.95"/>
<ellipse cx="368.17" cy="1101.9" rx="3.1" ry="3.95"/>
<ellipse cx="373.41" cy="1101.9" rx="3.1" ry="3.95"/>
<ellipse cx="378.83" cy="1101.9" rx="3.1" ry="3.95"/>
<ellipse cx="384.07" cy="1101.9" rx="3.1" ry="3.95"/>
<ellipse cx="389.49" cy="1101.9" rx="3.1" ry="3.95"/>
<ellipse cx="405.22" cy="1101.9" rx="3.1" ry="3.95"/>
<ellipse cx="410.46" cy="1101.9" rx="3.1" ry="3.95"/>
<ellipse cx="415.88" cy="1101.9" rx="3.1" ry="3.95"/>
<ellipse cx="421.12" cy="1101.9" rx="3.1" ry="3.95"/>
<ellipse cx="426.54" cy="1101.9" rx="3.1" ry="3.95"/>
<ellipse cx="431.96" cy="1101.9" rx="3.1" ry="3.95"/>
<ellipse cx="442.62" cy="1101.9" rx="3.1" ry="3.95"/>
<ellipse cx="453.28" cy="1101.9" rx="3.1" ry="3.95"/>
<ellipse cx="458.69" cy="1101.9" rx="3.1" ry="3.95"/>
<ellipse cx="469.18" cy="1101.9" rx="3.1" ry="3.95"/>
<ellipse cx="479.84" cy="1101.9" rx="3.1" ry="3.95"/>
<ellipse cx="485.08" cy="1101.9" rx="3.1" ry="3.95"/>
<ellipse cx="490.50" cy="1101.9" rx="3.1" ry="3.95"/>
<ellipse cx="495.91" cy="1101.9" rx="3.1" ry="3.95"/>
<ellipse cx="501.16" cy="1101.9" rx="3.1" ry="3.95"/>
<ellipse cx="506.57" cy="1101.9" rx="3.1" ry="3.95"/>
<ellipse cx="511.82" cy="1101.9" rx="3.1" ry="3.95"/>
<ellipse cx="517.23" cy="1101.9" rx="3.1" ry="3.95"/>
<ellipse cx="522.65" cy="1101.9" rx="3.1" ry="3.95"/>
<ellipse cx="527.54" cy="1101.9" rx="3.1" ry="3.95"/>
<ellipse cx="532.96" cy="1101.9" rx="3.1" ry="3.95"/>
<ellipse cx="538.20" cy="1101.9" rx="3.1" ry="3.95"/>
<ellipse cx="543.62" cy="1101.9" rx="3.1" ry="3.95"/>
<ellipse cx="548.86" cy="1101.9" rx="3.1" ry="3.95"/>
<ellipse cx="554.28" cy="1101.9" rx="3.1" ry="3.95"/>
<ellipse cx="559.70" cy="1101.9" rx="3.1" ry="3.95"/>
<ellipse cx="564.94" cy="1101.9" rx="3.1" ry="3.95"/>
<ellipse cx="570.36" cy="1101.9" rx="3.1" ry="3.95"/>
<ellipse cx="575.60" cy="1101.9" rx="3.1" ry="3.95"/>
<ellipse cx="581.02" cy="1101.9" rx="3.1" ry="3.95"/>
<ellipse cx="586.43" cy="1101.9" rx="3.1" ry="3.95"/>
<ellipse cx="591.33" cy="1101.9" rx="3.1" ry="3.95"/>
<ellipse cx="601.99" cy="1101.9" rx="3.1" ry="3.95"/>
<ellipse cx="607.40" cy="1101.9" rx="3.1" ry="3.95"/>
<ellipse cx="612.65" cy="1101.9" rx="3.1" ry="3.95"/>
<ellipse cx="618.06" cy="1101.9" rx="3.1" ry="3.95"/>
<ellipse cx="623.48" cy="1101.9" rx="3.1" ry="3.95"/>
<ellipse cx="628.72" cy="1101.9" rx="3.1" ry="3.95"/>
<ellipse cx="634.14" cy="1101.9" rx="3.1" ry="3.95"/>
<ellipse cx="639.38" cy="1101.9" rx="3.1" ry="3.95"/>
<ellipse cx="203.38" cy="628.4" rx="3.1" ry="3.95"/>
<ellipse cx="112.86" cy="670.8" rx="3.1" ry="3.95"/>
<ellipse cx="102.03" cy="772.0" rx="3.1" ry="3.95"/>
<ellipse cx="288.31" cy="784.7" rx="3.1" ry="3.95"/>
<ellipse cx="155.15" cy="793.7" rx="3.1" ry="3.95"/>
<ellipse cx="118.11" cy="812.6" rx="3.1" ry="3.95"/>
<ellipse cx="86.13" cy="822.9" rx="3.1" ry="3.95"/>
<ellipse cx="261.92" cy="866.1" rx="3.1" ry="3.95"/>
<ellipse cx="134.18" cy="875.2" rx="3.1" ry="3.95"/>
<ellipse cx="315.05" cy="888.4" rx="3.1" ry="3.95"/>
<ellipse cx="96.79" cy="903.5" rx="3.1" ry="3.95"/>
<ellipse cx="70.40" cy="909.9" rx="3.1" ry="3.95"/>
<ellipse cx="187.31" cy="903.5" rx="3.1" ry="3.95"/>
<ellipse cx="213.87" cy="903.5" rx="3.1" ry="3.95"/>
<ellipse cx="224.53" cy="903.5" rx="3.1" ry="3.95"/>
<ellipse cx="203.38" cy="909.9" rx="3.1" ry="3.95"/>
<ellipse cx="176.65" cy="911.4" rx="3.1" ry="3.95"/>
<ellipse cx="144.49" cy="909.9" rx="3.1" ry="3.95"/>
<ellipse cx="144.49" cy="914.7" rx="3.1" ry="3.95"/>
<ellipse cx="155.15" cy="921.1" rx="3.1" ry="3.95"/>
<ellipse cx="267.34" cy="905.0" rx="3.1" ry="3.95"/>
<ellipse cx="282.89" cy="907.7" rx="3.1" ry="3.95"/>
<ellipse cx="272.24" cy="916.4" rx="3.1" ry="3.95"/>
<ellipse cx="251.27" cy="919.1" rx="3.1" ry="3.95"/>
<ellipse cx="277.65" cy="935.8" rx="3.1" ry="3.95"/>
<ellipse cx="309.63" cy="938.2" rx="3.1" ry="3.95"/>
<ellipse cx="346.68" cy="929.2" rx="3.1" ry="3.95"/>
<ellipse cx="160.57" cy="951.8" rx="3.1" ry="3.95"/>
<ellipse cx="123.52" cy="954.9" rx="3.1" ry="3.95"/>
<ellipse cx="107.45" cy="958.6" rx="3.1" ry="3.95"/>
<ellipse cx="86.13" cy="964.9" rx="3.1" ry="3.95"/>
<ellipse cx="160.57" cy="964.9" rx="3.1" ry="3.95"/>
<ellipse cx="219.11" cy="963.6" rx="3.1" ry="3.95"/>
<ellipse cx="331.13" cy="964.9" rx="3.1" ry="3.95"/>
<ellipse cx="176.65" cy="973.9" rx="3.1" ry="3.95"/>
<ellipse cx="229.77" cy="980.3" rx="3.1" ry="3.95"/>
<ellipse cx="118.11" cy="982.5" rx="3.1" ry="3.95"/>
<ellipse cx="123.52" cy="987.6" rx="3.1" ry="3.95"/>
<ellipse cx="128.77" cy="993.3" rx="3.1" ry="3.95"/>
<ellipse cx="75.82" cy="994.1" rx="3.1" ry="3.95"/>
<ellipse cx="144.49" cy="994.1" rx="3.1" ry="3.95"/>
<ellipse cx="187.31" cy="994.1" rx="3.1" ry="3.95"/>
<ellipse cx="272.24" cy="993.3" rx="3.1" ry="3.95"/>
<ellipse cx="96.79" cy="997.2" rx="3.1" ry="3.95"/>
<ellipse cx="107.45" cy="1000.7" rx="3.1" ry="3.95"/>
<ellipse cx="229.77" cy="1000.7" rx="3.1" ry="3.95"/>
<ellipse cx="245.85" cy="1006.0" rx="3.1" ry="3.95"/>
<ellipse cx="134.18" cy="1008.6" rx="3.1" ry="3.95"/>
<ellipse cx="267.34" cy="1008.6" rx="3.1" ry="3.95"/>
<ellipse cx="149.91" cy="1009.9" rx="3.1" ry="3.95"/>
<ellipse cx="181.89" cy="1011.3" rx="3.1" ry="3.95"/>
<ellipse cx="160.57" cy="1013.4" rx="3.1" ry="3.95"/>
<ellipse cx="219.11" cy="1012.4" rx="3.1" ry="3.95"/>
<ellipse cx="192.55" cy="1015.0" rx="3.1" ry="3.95"/>
<ellipse cx="171.23" cy="1016.7" rx="3.1" ry="3.95"/>
<ellipse cx="315.05" cy="1012.4" rx="3.1" ry="3.95"/>
<ellipse cx="341.44" cy="1013.4" rx="3.1" ry="3.95"/>
<ellipse cx="320.29" cy="1018.7" rx="3.1" ry="3.95"/>
<ellipse cx="325.71" cy="1021.8" rx="3.1" ry="3.95"/>
<ellipse cx="336.02" cy="1024.6" rx="3.1" ry="3.95"/>
<ellipse cx="75.82" cy="1026.0" rx="3.1" ry="3.95"/>
<ellipse cx="277.65" cy="1025.1" rx="3.1" ry="3.95"/>
<ellipse cx="288.31" cy="1026.0" rx="3.1" ry="3.95"/>
<ellipse cx="298.97" cy="1026.0" rx="3.1" ry="3.95"/>
<ellipse cx="293.55" cy="1029.9" rx="3.1" ry="3.95"/>
<ellipse cx="357.34" cy="1028.8" rx="3.1" ry="3.95"/>
<ellipse cx="139.60" cy="1029.0" rx="3.1" ry="3.95"/>
<ellipse cx="165.81" cy="1029.0" rx="3.1" ry="3.95"/>
<ellipse cx="240.61" cy="1031.0" rx="3.1" ry="3.95"/>
<ellipse cx="149.91" cy="1033.9" rx="3.1" ry="3.95"/>
<ellipse cx="187.31" cy="1033.9" rx="3.1" ry="3.95"/>
<ellipse cx="80.71" cy="1038.7" rx="3.1" ry="3.95"/>
<ellipse cx="139.60" cy="1038.7" rx="3.1" ry="3.95"/>
<ellipse cx="197.97" cy="1038.7" rx="3.1" ry="3.95"/>
<ellipse cx="282.89" cy="1040.4" rx="3.1" ry="3.95"/>
<ellipse cx="293.55" cy="1042.6" rx="3.1" ry="3.95"/>
<ellipse cx="288.31" cy="1043.7" rx="3.1" ry="3.95"/>
<ellipse cx="235.19" cy="1042.7" rx="3.1" ry="3.95"/>
<ellipse cx="235.19" cy="1043.9" rx="3.1" ry="3.95"/>
<ellipse cx="352.10" cy="1041.5" rx="3.1" ry="3.95"/>
<ellipse cx="309.63" cy="1046.6" rx="3.1" ry="3.95"/>
<ellipse cx="192.55" cy="1047.9" rx="3.1" ry="3.95"/>
<ellipse cx="213.87" cy="1049.0" rx="3.1" ry="3.95"/>
<ellipse cx="320.29" cy="1049.0" rx="3.1" ry="3.95"/>
<ellipse cx="134.18" cy="1051.6" rx="3.1" ry="3.95"/>
<ellipse cx="171.23" cy="1051.6" rx="3.1" ry="3.95"/>
<ellipse cx="315.05" cy="1051.6" rx="3.1" ry="3.95"/>
<ellipse cx="346.68" cy="1051.6" rx="3.1" ry="3.95"/>
<ellipse cx="102.03" cy="1080.8" rx="3.1" ry="3.95"/>
<ellipse cx="384.07" cy="770.4" rx="3.1" ry="3.95"/>
<ellipse cx="527.54" cy="838.2" rx="3.1" ry="3.95"/>
<ellipse cx="618.06" cy="858.8" rx="3.1" ry="3.95"/>
<ellipse cx="474.42" cy="868.5" rx="3.1" ry="3.95"/>
<ellipse cx="368.17" cy="883.1" rx="3.1" ry="3.95"/>
<ellipse cx="378.83" cy="899.8" rx="3.1" ry="3.95"/>
<ellipse cx="469.18" cy="916.4" rx="3.1" ry="3.95"/>
<ellipse cx="463.76" cy="920.2" rx="3.1" ry="3.95"/>
<ellipse cx="399.80" cy="934.0" rx="3.1" ry="3.95"/>
<ellipse cx="394.91" cy="939.3" rx="3.1" ry="3.95"/>
<ellipse cx="447.86" cy="935.5" rx="3.1" ry="3.95"/>
<ellipse cx="538.20" cy="935.5" rx="3.1" ry="3.95"/>
<ellipse cx="362.76" cy="952.0" rx="3.1" ry="3.95"/>
<ellipse cx="431.96" cy="957.3" rx="3.1" ry="3.95"/>
<ellipse cx="511.82" cy="959.9" rx="3.1" ry="3.95"/>
<ellipse cx="463.76" cy="970.9" rx="3.1" ry="3.95"/>
<ellipse cx="447.86" cy="972.8" rx="3.1" ry="3.95"/>
<ellipse cx="463.76" cy="980.3" rx="3.1" ry="3.95"/>
<ellipse cx="394.91" cy="993.3" rx="3.1" ry="3.95"/>
<ellipse cx="511.82" cy="991.9" rx="3.1" ry="3.95"/>
<ellipse cx="426.54" cy="998.5" rx="3.1" ry="3.95"/>
<ellipse cx="596.74" cy="999.4" rx="3.1" ry="3.95"/>
<ellipse cx="415.88" cy="1003.4" rx="3.1" ry="3.95"/>
<ellipse cx="474.42" cy="1004.9" rx="3.1" ry="3.95"/>
<ellipse cx="415.88" cy="1010.4" rx="3.1" ry="3.95"/>
<ellipse cx="447.86" cy="1008.6" rx="3.1" ry="3.95"/>
<ellipse cx="437.20" cy="1011.3" rx="3.1" ry="3.95"/>
<ellipse cx="543.62" cy="1007.1" rx="3.1" ry="3.95"/>
<ellipse cx="479.84" cy="1012.4" rx="3.1" ry="3.95"/>
<ellipse cx="495.91" cy="1009.9" rx="3.1" ry="3.95"/>
<ellipse cx="554.28" cy="1011.3" rx="3.1" ry="3.95"/>
<ellipse cx="564.94" cy="1013.9" rx="3.1" ry="3.95"/>
<ellipse cx="405.22" cy="1014.5" rx="3.1" ry="3.95"/>
<ellipse cx="501.16" cy="1015.0" rx="3.1" ry="3.95"/>
<ellipse cx="506.57" cy="1016.3" rx="3.1" ry="3.95"/>
<ellipse cx="490.50" cy="1017.6" rx="3.1" ry="3.95"/>
<ellipse cx="532.96" cy="1016.1" rx="3.1" ry="3.95"/>
<ellipse cx="532.96" cy="1017.3" rx="3.1" ry="3.95"/>
<ellipse cx="575.60" cy="1018.7" rx="3.1" ry="3.95"/>
<ellipse cx="596.74" cy="1019.6" rx="3.1" ry="3.95"/>
<ellipse cx="384.07" cy="1019.8" rx="3.1" ry="3.95"/>
<ellipse cx="389.49" cy="1019.8" rx="3.1" ry="3.95"/>
<ellipse cx="394.91" cy="1019.4" rx="3.1" ry="3.95"/>
<ellipse cx="399.80" cy="1018.5" rx="3.1" ry="3.95"/>
<ellipse cx="405.22" cy="1020.0" rx="3.1" ry="3.95"/>
<ellipse cx="410.46" cy="1022.9" rx="3.1" ry="3.95"/>
<ellipse cx="538.20" cy="1023.1" rx="3.1" ry="3.95"/>
<ellipse cx="437.20" cy="1024.0" rx="3.1" ry="3.95"/>
<ellipse cx="596.74" cy="1026.2" rx="3.1" ry="3.95"/>
<ellipse cx="591.33" cy="1027.5" rx="3.1" ry="3.95"/>
<ellipse cx="389.49" cy="1027.5" rx="3.1" ry="3.95"/>
<ellipse cx="442.62" cy="1026.8" rx="3.1" ry="3.95"/>
<ellipse cx="442.62" cy="1028.8" rx="3.1" ry="3.95"/>
<ellipse cx="506.57" cy="1028.8" rx="3.1" ry="3.95"/>
<ellipse cx="453.28" cy="1031.0" rx="3.1" ry="3.95"/>
<ellipse cx="495.91" cy="1031.0" rx="3.1" ry="3.95"/>
<ellipse cx="362.76" cy="1037.2" rx="3.1" ry="3.95"/>
<ellipse cx="399.80" cy="1037.2" rx="3.1" ry="3.95"/>
<ellipse cx="421.12" cy="1037.2" rx="3.1" ry="3.95"/>
<ellipse cx="437.20" cy="1037.2" rx="3.1" ry="3.95"/>
<ellipse cx="474.42" cy="1035.2" rx="3.1" ry="3.95"/>
<ellipse cx="373.41" cy="1041.5" rx="3.1" ry="3.95"/>
<ellipse cx="570.36" cy="1041.5" rx="3.1" ry="3.95"/>
<ellipse cx="586.43" cy="1042.6" rx="3.1" ry="3.95"/>
<ellipse cx="618.06" cy="1043.7" rx="3.1" ry="3.95"/>
<ellipse cx="564.94" cy="1050.1" rx="3.1" ry="3.95"/>
</g>
<path d="M70.4 1002L639.3 1079.6" stroke="#174186" stroke-width="2.7" fill="none"/>
</g>
<g>
<rect x="752.4" y="619.6" width="600.40" height="492.30" fill="none" stroke="#272727" stroke-width="1.5"/>
<path d="M760.80 1111.9v8M825.56 1111.9v8M890.31 1111.9v8M955.07 1111.9v8M1019.82 1111.9v8M1084.58 1111.9v8M1149.33 1111.9v8M1214.09 1111.9v8M1278.84 1111.9v8M1343.60 1111.9v8M752.4 1101.7h-6.4M752.4 1013.2h-6.4M752.4 924.7h-6.4M752.4 836.1h-6.4M752.4 747.6h-6.4M752.4 659.1h-6.4" stroke="#272727" stroke-width="1.4" fill="none"/>
<text transform="translate(760.80,1144.60) scale(0.7450,1.0000)" text-anchor="middle" font-size="17.5" fill="#272727" stroke="#272727" stroke-width="0.3">2006</text>
<text transform="translate(825.56,1144.60) scale(0.7450,1.0000)" text-anchor="middle" font-size="17.5" fill="#272727" stroke="#272727" stroke-width="0.3">2007</text>
<text transform="translate(890.31,1144.60) scale(0.7450,1.0000)" text-anchor="middle" font-size="17.5" fill="#272727" stroke="#272727" stroke-width="0.3">2008</text>
<text transform="translate(955.07,1144.60) scale(0.7450,1.0000)" text-anchor="middle" font-size="17.5" fill="#272727" stroke="#272727" stroke-width="0.3">2009</text>
<text transform="translate(1019.82,1144.60) scale(0.7450,1.0000)" text-anchor="middle" font-size="17.5" fill="#272727" stroke="#272727" stroke-width="0.3">2010</text>
<text transform="translate(1084.58,1144.60) scale(0.7450,1.0000)" text-anchor="middle" font-size="17.5" fill="#272727" stroke="#272727" stroke-width="0.3">2011</text>
<text transform="translate(1149.33,1144.60) scale(0.7450,1.0000)" text-anchor="middle" font-size="17.5" fill="#272727" stroke="#272727" stroke-width="0.3">2012</text>
<text transform="translate(1214.09,1144.60) scale(0.7450,1.0000)" text-anchor="middle" font-size="17.5" fill="#272727" stroke="#272727" stroke-width="0.3">2013</text>
<text transform="translate(1278.84,1144.60) scale(0.7450,1.0000)" text-anchor="middle" font-size="17.5" fill="#272727" stroke="#272727" stroke-width="0.3">2014</text>
<text transform="translate(1343.60,1144.60) scale(0.7450,1.0000)" text-anchor="middle" font-size="17.5" fill="#272727" stroke="#272727" stroke-width="0.3">2015</text>
<text transform="translate(737.00,1107.90) scale(0.7800,1.0000)" text-anchor="end" font-size="17.5" fill="#272727" stroke="#272727" stroke-width="0.3">0</text>
<text transform="translate(737.00,1018.80) scale(0.7800,1.0000)" text-anchor="end" font-size="17.5" fill="#272727" stroke="#272727" stroke-width="0.3">2</text>
<text transform="translate(737.00,930.00) scale(0.7800,1.0000)" text-anchor="end" font-size="17.5" fill="#272727" stroke="#272727" stroke-width="0.3">4</text>
<text transform="translate(737.00,842.50) scale(0.7800,1.0000)" text-anchor="end" font-size="17.5" fill="#272727" stroke="#272727" stroke-width="0.3">6</text>
<text transform="translate(737.00,753.20) scale(0.7800,1.0000)" text-anchor="end" font-size="17.5" fill="#272727" stroke="#272727" stroke-width="0.3">8</text>
<text transform="translate(737.00,664.70) scale(0.7800,1.0000)" text-anchor="end" font-size="17.5" fill="#272727" stroke="#272727" stroke-width="0.3">10</text>
<text transform="translate(708.50,885.80) rotate(-90) scale(0.9031,1.0500)" text-anchor="middle" font-size="16.0" fill="#272727" stroke="#272727" stroke-width="0.3">CRKP rate/1000 patient days</text>
<text transform="translate(1051.30,1172.00) scale(0.7607,1.0000)" text-anchor="middle" font-size="17.8" fill="#272727" stroke="#272727" stroke-width="0.3">Date</text>
<rect x="984.6" y="1184.7" width="136.90" height="22.70" fill="#fff" stroke="#272727" stroke-width="1.5"/>
<path d="M988.6 1196.4H1040.6" stroke="#174186" stroke-width="2.6"/>
<text transform="translate(1046.10,1200.90) scale(0.8656,1.0000)" text-anchor="start" font-size="16.4" fill="#272727" stroke="#272727" stroke-width="0.3">Regression</text>
<g fill="none" stroke="#272727" stroke-width="1.8">
<ellipse cx="760.80" cy="1101.9" rx="3.1" ry="3.95"/>
<ellipse cx="766.30" cy="1101.9" rx="3.1" ry="3.95"/>
<ellipse cx="771.26" cy="1101.9" rx="3.1" ry="3.95"/>
<ellipse cx="776.76" cy="1101.9" rx="3.1" ry="3.95"/>
<ellipse cx="782.08" cy="1101.9" rx="3.1" ry="3.95"/>
<ellipse cx="787.57" cy="1101.9" rx="3.1" ry="3.95"/>
<ellipse cx="798.39" cy="1101.9" rx="3.1" ry="3.95"/>
<ellipse cx="803.89" cy="1101.9" rx="3.1" ry="3.95"/>
<ellipse cx="809.20" cy="1101.9" rx="3.1" ry="3.95"/>
<ellipse cx="814.70" cy="1101.9" rx="3.1" ry="3.95"/>
<ellipse cx="820.02" cy="1101.9" rx="3.1" ry="3.95"/>
<ellipse cx="825.52" cy="1101.9" rx="3.1" ry="3.95"/>
<ellipse cx="831.01" cy="1101.9" rx="3.1" ry="3.95"/>
<ellipse cx="835.98" cy="1101.9" rx="3.1" ry="3.95"/>
<ellipse cx="846.79" cy="1101.9" rx="3.1" ry="3.95"/>
<ellipse cx="852.29" cy="1101.9" rx="3.1" ry="3.95"/>
<ellipse cx="857.61" cy="1101.9" rx="3.1" ry="3.95"/>
<ellipse cx="863.10" cy="1101.9" rx="3.1" ry="3.95"/>
<ellipse cx="868.60" cy="1101.9" rx="3.1" ry="3.95"/>
<ellipse cx="873.92" cy="1101.9" rx="3.1" ry="3.95"/>
<ellipse cx="879.42" cy="1101.9" rx="3.1" ry="3.95"/>
<ellipse cx="884.74" cy="1101.9" rx="3.1" ry="3.95"/>
<ellipse cx="890.23" cy="1101.9" rx="3.1" ry="3.95"/>
<ellipse cx="895.73" cy="1101.9" rx="3.1" ry="3.95"/>
<ellipse cx="900.87" cy="1101.9" rx="3.1" ry="3.95"/>
<ellipse cx="906.37" cy="1101.9" rx="3.1" ry="3.95"/>
<ellipse cx="911.69" cy="1101.9" rx="3.1" ry="3.95"/>
<ellipse cx="917.18" cy="1101.9" rx="3.1" ry="3.95"/>
<ellipse cx="922.50" cy="1101.9" rx="3.1" ry="3.95"/>
<ellipse cx="928.00" cy="1101.9" rx="3.1" ry="3.95"/>
<ellipse cx="933.49" cy="1101.9" rx="3.1" ry="3.95"/>
<ellipse cx="938.81" cy="1101.9" rx="3.1" ry="3.95"/>
<ellipse cx="944.31" cy="1101.9" rx="3.1" ry="3.95"/>
<ellipse cx="949.63" cy="1101.9" rx="3.1" ry="3.95"/>
<ellipse cx="955.13" cy="1101.9" rx="3.1" ry="3.95"/>
<ellipse cx="960.62" cy="1101.9" rx="3.1" ry="3.95"/>
<ellipse cx="965.59" cy="1101.9" rx="3.1" ry="3.95"/>
<ellipse cx="971.08" cy="1101.9" rx="3.1" ry="3.95"/>
<ellipse cx="976.40" cy="1101.9" rx="3.1" ry="3.95"/>
<ellipse cx="981.90" cy="1101.9" rx="3.1" ry="3.95"/>
<ellipse cx="987.22" cy="1101.9" rx="3.1" ry="3.95"/>
<ellipse cx="992.71" cy="1101.9" rx="3.1" ry="3.95"/>
<ellipse cx="998.21" cy="1101.9" rx="3.1" ry="3.95"/>
<ellipse cx="1003.53" cy="1101.9" rx="3.1" ry="3.95"/>
<ellipse cx="1009.03" cy="1101.9" rx="3.1" ry="3.95"/>
<ellipse cx="1014.35" cy="1101.9" rx="3.1" ry="3.95"/>
<ellipse cx="1019.84" cy="1101.9" rx="3.1" ry="3.95"/>
<ellipse cx="1025.34" cy="1101.9" rx="3.1" ry="3.95"/>
<ellipse cx="1030.30" cy="1101.9" rx="3.1" ry="3.95"/>
<ellipse cx="1035.80" cy="1101.9" rx="3.1" ry="3.95"/>
<ellipse cx="1041.12" cy="1101.9" rx="3.1" ry="3.95"/>
<ellipse cx="1046.61" cy="1101.9" rx="3.1" ry="3.95"/>
<ellipse cx="1051.93" cy="1101.9" rx="3.1" ry="3.95"/>
<ellipse cx="1057.43" cy="1101.9" rx="3.1" ry="3.95"/>
<ellipse cx="1062.93" cy="1101.9" rx="3.1" ry="3.95"/>
<ellipse cx="1068.25" cy="1101.9" rx="3.1" ry="3.95"/>
<ellipse cx="1073.74" cy="1101.9" rx="3.1" ry="3.95"/>
<ellipse cx="1079.06" cy="1101.9" rx="3.1" ry="3.95"/>
<ellipse cx="1084.56" cy="1101.9" rx="3.1" ry="3.95"/>
<ellipse cx="1090.05" cy="1101.9" rx="3.1" ry="3.95"/>
<ellipse cx="1095.02" cy="1101.9" rx="3.1" ry="3.95"/>
<ellipse cx="1100.52" cy="1101.9" rx="3.1" ry="3.95"/>
<ellipse cx="1105.83" cy="1101.9" rx="3.1" ry="3.95"/>
<ellipse cx="1111.33" cy="1101.9" rx="3.1" ry="3.95"/>
<ellipse cx="1116.65" cy="1101.9" rx="3.1" ry="3.95"/>
<ellipse cx="1122.15" cy="1101.9" rx="3.1" ry="3.95"/>
<ellipse cx="1127.64" cy="1101.9" rx="3.1" ry="3.95"/>
<ellipse cx="1132.96" cy="1101.9" rx="3.1" ry="3.95"/>
<ellipse cx="1138.46" cy="1101.9" rx="3.1" ry="3.95"/>
<ellipse cx="1143.78" cy="1101.9" rx="3.1" ry="3.95"/>
<ellipse cx="1149.27" cy="1101.9" rx="3.1" ry="3.95"/>
<ellipse cx="1154.77" cy="1101.9" rx="3.1" ry="3.95"/>
<ellipse cx="1159.91" cy="1101.9" rx="3.1" ry="3.95"/>
<ellipse cx="1165.41" cy="1101.9" rx="3.1" ry="3.95"/>
<ellipse cx="1170.73" cy="1101.9" rx="3.1" ry="3.95"/>
<ellipse cx="1176.22" cy="1101.9" rx="3.1" ry="3.95"/>
<ellipse cx="1187.04" cy="1101.9" rx="3.1" ry="3.95"/>
<ellipse cx="1192.54" cy="1101.9" rx="3.1" ry="3.95"/>
<ellipse cx="1197.86" cy="1101.9" rx="3.1" ry="3.95"/>
<ellipse cx="1203.35" cy="1101.9" rx="3.1" ry="3.95"/>
<ellipse cx="1208.67" cy="1101.9" rx="3.1" ry="3.95"/>
<ellipse cx="1214.17" cy="1101.9" rx="3.1" ry="3.95"/>
<ellipse cx="1219.66" cy="1101.9" rx="3.1" ry="3.95"/>
<ellipse cx="1224.63" cy="1101.9" rx="3.1" ry="3.95"/>
<ellipse cx="1230.13" cy="1101.9" rx="3.1" ry="3.95"/>
<ellipse cx="1235.44" cy="1101.9" rx="3.1" ry="3.95"/>
<ellipse cx="1246.26" cy="1101.9" rx="3.1" ry="3.95"/>
<ellipse cx="1251.76" cy="1101.9" rx="3.1" ry="3.95"/>
<ellipse cx="1257.25" cy="1101.9" rx="3.1" ry="3.95"/>
<ellipse cx="1262.57" cy="1101.9" rx="3.1" ry="3.95"/>
<ellipse cx="1268.07" cy="1101.9" rx="3.1" ry="3.95"/>
<ellipse cx="1273.39" cy="1101.9" rx="3.1" ry="3.95"/>
<ellipse cx="1278.88" cy="1101.9" rx="3.1" ry="3.95"/>
<ellipse cx="1284.38" cy="1101.9" rx="3.1" ry="3.95"/>
<ellipse cx="1289.34" cy="1101.9" rx="3.1" ry="3.95"/>
<ellipse cx="1294.84" cy="1101.9" rx="3.1" ry="3.95"/>
<ellipse cx="1300.16" cy="1101.9" rx="3.1" ry="3.95"/>
<ellipse cx="1305.66" cy="1101.9" rx="3.1" ry="3.95"/>
<ellipse cx="1310.98" cy="1101.9" rx="3.1" ry="3.95"/>
<ellipse cx="1316.47" cy="1101.9" rx="3.1" ry="3.95"/>
<ellipse cx="1321.97" cy="1101.9" rx="3.1" ry="3.95"/>
<ellipse cx="1327.29" cy="1101.9" rx="3.1" ry="3.95"/>
<ellipse cx="1332.78" cy="1101.9" rx="3.1" ry="3.95"/>
<ellipse cx="1338.10" cy="1101.9" rx="3.1" ry="3.95"/>
<ellipse cx="841.47" cy="629.9" rx="3.1" ry="3.95"/>
<ellipse cx="825.52" cy="671.8" rx="3.1" ry="3.95"/>
<ellipse cx="933.49" cy="758.4" rx="3.1" ry="3.95"/>
<ellipse cx="949.63" cy="794.5" rx="3.1" ry="3.95"/>
<ellipse cx="976.40" cy="830.2" rx="3.1" ry="3.95"/>
<ellipse cx="803.89" cy="858.2" rx="3.1" ry="3.95"/>
<ellipse cx="868.60" cy="856.3" rx="3.1" ry="3.95"/>
<ellipse cx="884.74" cy="880.0" rx="3.1" ry="3.95"/>
<ellipse cx="831.01" cy="887.6" rx="3.1" ry="3.95"/>
<ellipse cx="835.98" cy="890.3" rx="3.1" ry="3.95"/>
<ellipse cx="820.02" cy="918.4" rx="3.1" ry="3.95"/>
<ellipse cx="787.57" cy="923.3" rx="3.1" ry="3.95"/>
<ellipse cx="922.50" cy="929.7" rx="3.1" ry="3.95"/>
<ellipse cx="820.02" cy="942.9" rx="3.1" ry="3.95"/>
<ellipse cx="825.52" cy="944.2" rx="3.1" ry="3.95"/>
<ellipse cx="917.18" cy="945.4" rx="3.1" ry="3.95"/>
<ellipse cx="1014.35" cy="937.8" rx="3.1" ry="3.95"/>
<ellipse cx="1051.93" cy="939.8" rx="3.1" ry="3.95"/>
<ellipse cx="1041.12" cy="947.6" rx="3.1" ry="3.95"/>
<ellipse cx="792.89" cy="962.1" rx="3.1" ry="3.95"/>
<ellipse cx="987.22" cy="960.3" rx="3.1" ry="3.95"/>
<ellipse cx="1046.61" cy="964.3" rx="3.1" ry="3.95"/>
<ellipse cx="814.70" cy="977.0" rx="3.1" ry="3.95"/>
<ellipse cx="992.71" cy="974.8" rx="3.1" ry="3.95"/>
<ellipse cx="1019.84" cy="974.8" rx="3.1" ry="3.95"/>
<ellipse cx="1025.34" cy="973.3" rx="3.1" ry="3.95"/>
<ellipse cx="1030.30" cy="971.9" rx="3.1" ry="3.95"/>
<ellipse cx="1057.43" cy="974.8" rx="3.1" ry="3.95"/>
<ellipse cx="841.47" cy="987.3" rx="3.1" ry="3.95"/>
<ellipse cx="852.29" cy="986.0" rx="3.1" ry="3.95"/>
<ellipse cx="879.42" cy="986.0" rx="3.1" ry="3.95"/>
<ellipse cx="906.37" cy="990.0" rx="3.1" ry="3.95"/>
<ellipse cx="917.18" cy="990.0" rx="3.1" ry="3.95"/>
<ellipse cx="760.80" cy="993.8" rx="3.1" ry="3.95"/>
<ellipse cx="890.23" cy="995.1" rx="3.1" ry="3.95"/>
<ellipse cx="895.73" cy="994.0" rx="3.1" ry="3.95"/>
<ellipse cx="782.08" cy="997.3" rx="3.1" ry="3.95"/>
<ellipse cx="981.90" cy="995.1" rx="3.1" ry="3.95"/>
<ellipse cx="998.21" cy="995.1" rx="3.1" ry="3.95"/>
<ellipse cx="841.47" cy="1000.2" rx="3.1" ry="3.95"/>
<ellipse cx="846.79" cy="1005.4" rx="3.1" ry="3.95"/>
<ellipse cx="981.90" cy="1003.8" rx="3.1" ry="3.95"/>
<ellipse cx="1051.93" cy="1013.0" rx="3.1" ry="3.95"/>
<ellipse cx="809.20" cy="1018.3" rx="3.1" ry="3.95"/>
<ellipse cx="792.89" cy="1067.4" rx="3.1" ry="3.95"/>
<ellipse cx="1154.77" cy="666.9" rx="3.1" ry="3.95"/>
<ellipse cx="1235.44" cy="679.8" rx="3.1" ry="3.95"/>
<ellipse cx="1240.94" cy="724.5" rx="3.1" ry="3.95"/>
<ellipse cx="1240.94" cy="777.8" rx="3.1" ry="3.95"/>
<ellipse cx="1149.27" cy="795.6" rx="3.1" ry="3.95"/>
<ellipse cx="1246.26" cy="821.3" rx="3.1" ry="3.95"/>
<ellipse cx="1105.83" cy="830.2" rx="3.1" ry="3.95"/>
<ellipse cx="1132.96" cy="836.7" rx="3.1" ry="3.95"/>
<ellipse cx="1203.35" cy="906.8" rx="3.1" ry="3.95"/>
<ellipse cx="1262.57" cy="927.1" rx="3.1" ry="3.95"/>
<ellipse cx="1068.25" cy="936.2" rx="3.1" ry="3.95"/>
<ellipse cx="1197.86" cy="937.6" rx="3.1" ry="3.95"/>
<ellipse cx="1219.66" cy="940.0" rx="3.1" ry="3.95"/>
<ellipse cx="1240.94" cy="946.5" rx="3.1" ry="3.95"/>
<ellipse cx="1181.54" cy="950.3" rx="3.1" ry="3.95"/>
<ellipse cx="1181.54" cy="951.5" rx="3.1" ry="3.95"/>
<ellipse cx="1257.25" cy="951.8" rx="3.1" ry="3.95"/>
<ellipse cx="1262.57" cy="952.7" rx="3.1" ry="3.95"/>
<ellipse cx="1268.07" cy="952.7" rx="3.1" ry="3.95"/>
<ellipse cx="1187.04" cy="958.1" rx="3.1" ry="3.95"/>
<ellipse cx="1143.78" cy="960.1" rx="3.1" ry="3.95"/>
<ellipse cx="1273.39" cy="962.1" rx="3.1" ry="3.95"/>
<ellipse cx="1278.88" cy="962.1" rx="3.1" ry="3.95"/>
<ellipse cx="1327.29" cy="961.6" rx="3.1" ry="3.95"/>
<ellipse cx="1235.44" cy="966.8" rx="3.1" ry="3.95"/>
<ellipse cx="1305.66" cy="969.5" rx="3.1" ry="3.95"/>
<ellipse cx="1257.25" cy="971.9" rx="3.1" ry="3.95"/>
<ellipse cx="1321.97" cy="971.9" rx="3.1" ry="3.95"/>
<ellipse cx="1138.46" cy="972.8" rx="3.1" ry="3.95"/>
<ellipse cx="1138.46" cy="978.2" rx="3.1" ry="3.95"/>
<ellipse cx="1310.98" cy="982.2" rx="3.1" ry="3.95"/>
<ellipse cx="1062.93" cy="988.4" rx="3.1" ry="3.95"/>
<ellipse cx="1159.91" cy="998.9" rx="3.1" ry="3.95"/>
<ellipse cx="1181.54" cy="1010.5" rx="3.1" ry="3.95"/>
</g>
<path d="M760.8 1053.1L1338.2 1064.7" stroke="#174186" stroke-width="2.7" fill="none"/>
</g>
</g>
</svg></body></html>
